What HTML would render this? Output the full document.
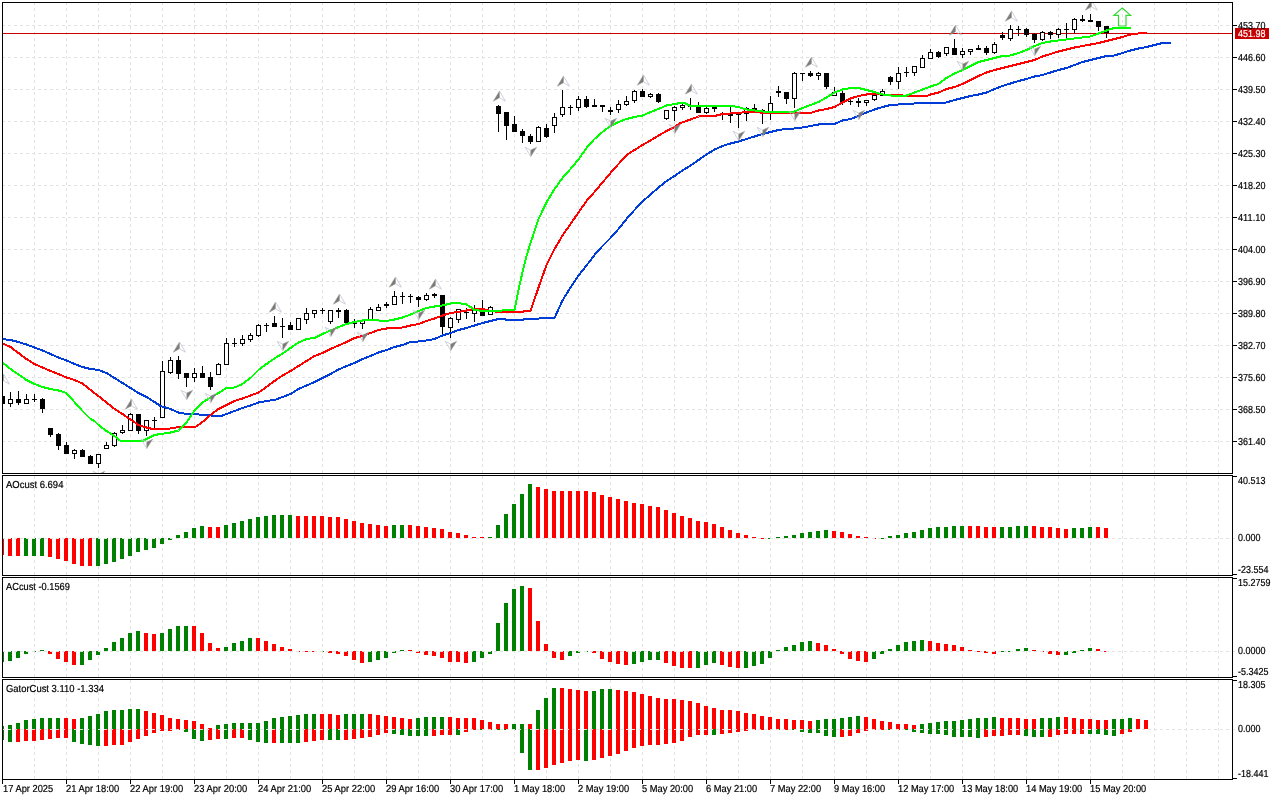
<!DOCTYPE html>
<html><head><meta charset="utf-8"><title>Chart</title>
<style>html,body{margin:0;padding:0;background:#fff;overflow:hidden}svg{display:block}text{font-family:"Liberation Sans",sans-serif;white-space:pre}</style>
</head><body>
<svg width="1280" height="800" viewBox="0 0 1280 800">
<rect width="1280" height="800" fill="#fff"/>
<defs>
<clipPath id="cm"><rect x="3" y="3" width="1229" height="470"/></clipPath>
</defs>
<g shape-rendering="crispEdges" stroke="#e2e2e2" stroke-width="1" fill="none">
<line x1="34.5" y1="3" x2="34.5" y2="473" stroke-dasharray="3 3" stroke-dashoffset="1"/>
<line x1="66.5" y1="3" x2="66.5" y2="473" stroke-dasharray="3 3" stroke-dashoffset="1"/>
<line x1="98.5" y1="3" x2="98.5" y2="473" stroke-dasharray="3 3" stroke-dashoffset="1"/>
<line x1="130.5" y1="3" x2="130.5" y2="473" stroke-dasharray="3 3" stroke-dashoffset="1"/>
<line x1="162.5" y1="3" x2="162.5" y2="473" stroke-dasharray="3 3" stroke-dashoffset="1"/>
<line x1="194.5" y1="3" x2="194.5" y2="473" stroke-dasharray="3 3" stroke-dashoffset="1"/>
<line x1="226.5" y1="3" x2="226.5" y2="473" stroke-dasharray="3 3" stroke-dashoffset="1"/>
<line x1="258.5" y1="3" x2="258.5" y2="473" stroke-dasharray="3 3" stroke-dashoffset="1"/>
<line x1="290.5" y1="3" x2="290.5" y2="473" stroke-dasharray="3 3" stroke-dashoffset="1"/>
<line x1="322.5" y1="3" x2="322.5" y2="473" stroke-dasharray="3 3" stroke-dashoffset="1"/>
<line x1="354.5" y1="3" x2="354.5" y2="473" stroke-dasharray="3 3" stroke-dashoffset="1"/>
<line x1="386.5" y1="3" x2="386.5" y2="473" stroke-dasharray="3 3" stroke-dashoffset="1"/>
<line x1="418.5" y1="3" x2="418.5" y2="473" stroke-dasharray="3 3" stroke-dashoffset="1"/>
<line x1="450.5" y1="3" x2="450.5" y2="473" stroke-dasharray="3 3" stroke-dashoffset="1"/>
<line x1="482.5" y1="3" x2="482.5" y2="473" stroke-dasharray="3 3" stroke-dashoffset="1"/>
<line x1="514.5" y1="3" x2="514.5" y2="473" stroke-dasharray="3 3" stroke-dashoffset="1"/>
<line x1="546.5" y1="3" x2="546.5" y2="473" stroke-dasharray="3 3" stroke-dashoffset="1"/>
<line x1="578.5" y1="3" x2="578.5" y2="473" stroke-dasharray="3 3" stroke-dashoffset="1"/>
<line x1="610.5" y1="3" x2="610.5" y2="473" stroke-dasharray="3 3" stroke-dashoffset="1"/>
<line x1="642.5" y1="3" x2="642.5" y2="473" stroke-dasharray="3 3" stroke-dashoffset="1"/>
<line x1="674.5" y1="3" x2="674.5" y2="473" stroke-dasharray="3 3" stroke-dashoffset="1"/>
<line x1="706.5" y1="3" x2="706.5" y2="473" stroke-dasharray="3 3" stroke-dashoffset="1"/>
<line x1="738.5" y1="3" x2="738.5" y2="473" stroke-dasharray="3 3" stroke-dashoffset="1"/>
<line x1="770.5" y1="3" x2="770.5" y2="473" stroke-dasharray="3 3" stroke-dashoffset="1"/>
<line x1="802.5" y1="3" x2="802.5" y2="473" stroke-dasharray="3 3" stroke-dashoffset="1"/>
<line x1="834.5" y1="3" x2="834.5" y2="473" stroke-dasharray="3 3" stroke-dashoffset="1"/>
<line x1="866.5" y1="3" x2="866.5" y2="473" stroke-dasharray="3 3" stroke-dashoffset="1"/>
<line x1="898.5" y1="3" x2="898.5" y2="473" stroke-dasharray="3 3" stroke-dashoffset="1"/>
<line x1="930.5" y1="3" x2="930.5" y2="473" stroke-dasharray="3 3" stroke-dashoffset="1"/>
<line x1="962.5" y1="3" x2="962.5" y2="473" stroke-dasharray="3 3" stroke-dashoffset="1"/>
<line x1="994.5" y1="3" x2="994.5" y2="473" stroke-dasharray="3 3" stroke-dashoffset="1"/>
<line x1="1026.5" y1="3" x2="1026.5" y2="473" stroke-dasharray="3 3" stroke-dashoffset="1"/>
<line x1="1058.5" y1="3" x2="1058.5" y2="473" stroke-dasharray="3 3" stroke-dashoffset="1"/>
<line x1="1090.5" y1="3" x2="1090.5" y2="473" stroke-dasharray="3 3" stroke-dashoffset="1"/>
<line x1="1122.5" y1="3" x2="1122.5" y2="473" stroke-dasharray="3 3" stroke-dashoffset="1"/>
<line x1="1154.5" y1="3" x2="1154.5" y2="473" stroke-dasharray="3 3" stroke-dashoffset="1"/>
<line x1="1186.5" y1="3" x2="1186.5" y2="473" stroke-dasharray="3 3" stroke-dashoffset="1"/>
<line x1="1218.5" y1="3" x2="1218.5" y2="473" stroke-dasharray="3 3" stroke-dashoffset="1"/>
<line x1="34.5" y1="476" x2="34.5" y2="575" stroke-dasharray="3 3" stroke-dashoffset="0"/>
<line x1="66.5" y1="476" x2="66.5" y2="575" stroke-dasharray="3 3" stroke-dashoffset="0"/>
<line x1="98.5" y1="476" x2="98.5" y2="575" stroke-dasharray="3 3" stroke-dashoffset="0"/>
<line x1="130.5" y1="476" x2="130.5" y2="575" stroke-dasharray="3 3" stroke-dashoffset="0"/>
<line x1="162.5" y1="476" x2="162.5" y2="575" stroke-dasharray="3 3" stroke-dashoffset="0"/>
<line x1="194.5" y1="476" x2="194.5" y2="575" stroke-dasharray="3 3" stroke-dashoffset="0"/>
<line x1="226.5" y1="476" x2="226.5" y2="575" stroke-dasharray="3 3" stroke-dashoffset="0"/>
<line x1="258.5" y1="476" x2="258.5" y2="575" stroke-dasharray="3 3" stroke-dashoffset="0"/>
<line x1="290.5" y1="476" x2="290.5" y2="575" stroke-dasharray="3 3" stroke-dashoffset="0"/>
<line x1="322.5" y1="476" x2="322.5" y2="575" stroke-dasharray="3 3" stroke-dashoffset="0"/>
<line x1="354.5" y1="476" x2="354.5" y2="575" stroke-dasharray="3 3" stroke-dashoffset="0"/>
<line x1="386.5" y1="476" x2="386.5" y2="575" stroke-dasharray="3 3" stroke-dashoffset="0"/>
<line x1="418.5" y1="476" x2="418.5" y2="575" stroke-dasharray="3 3" stroke-dashoffset="0"/>
<line x1="450.5" y1="476" x2="450.5" y2="575" stroke-dasharray="3 3" stroke-dashoffset="0"/>
<line x1="482.5" y1="476" x2="482.5" y2="575" stroke-dasharray="3 3" stroke-dashoffset="0"/>
<line x1="514.5" y1="476" x2="514.5" y2="575" stroke-dasharray="3 3" stroke-dashoffset="0"/>
<line x1="546.5" y1="476" x2="546.5" y2="575" stroke-dasharray="3 3" stroke-dashoffset="0"/>
<line x1="578.5" y1="476" x2="578.5" y2="575" stroke-dasharray="3 3" stroke-dashoffset="0"/>
<line x1="610.5" y1="476" x2="610.5" y2="575" stroke-dasharray="3 3" stroke-dashoffset="0"/>
<line x1="642.5" y1="476" x2="642.5" y2="575" stroke-dasharray="3 3" stroke-dashoffset="0"/>
<line x1="674.5" y1="476" x2="674.5" y2="575" stroke-dasharray="3 3" stroke-dashoffset="0"/>
<line x1="706.5" y1="476" x2="706.5" y2="575" stroke-dasharray="3 3" stroke-dashoffset="0"/>
<line x1="738.5" y1="476" x2="738.5" y2="575" stroke-dasharray="3 3" stroke-dashoffset="0"/>
<line x1="770.5" y1="476" x2="770.5" y2="575" stroke-dasharray="3 3" stroke-dashoffset="0"/>
<line x1="802.5" y1="476" x2="802.5" y2="575" stroke-dasharray="3 3" stroke-dashoffset="0"/>
<line x1="834.5" y1="476" x2="834.5" y2="575" stroke-dasharray="3 3" stroke-dashoffset="0"/>
<line x1="866.5" y1="476" x2="866.5" y2="575" stroke-dasharray="3 3" stroke-dashoffset="0"/>
<line x1="898.5" y1="476" x2="898.5" y2="575" stroke-dasharray="3 3" stroke-dashoffset="0"/>
<line x1="930.5" y1="476" x2="930.5" y2="575" stroke-dasharray="3 3" stroke-dashoffset="0"/>
<line x1="962.5" y1="476" x2="962.5" y2="575" stroke-dasharray="3 3" stroke-dashoffset="0"/>
<line x1="994.5" y1="476" x2="994.5" y2="575" stroke-dasharray="3 3" stroke-dashoffset="0"/>
<line x1="1026.5" y1="476" x2="1026.5" y2="575" stroke-dasharray="3 3" stroke-dashoffset="0"/>
<line x1="1058.5" y1="476" x2="1058.5" y2="575" stroke-dasharray="3 3" stroke-dashoffset="0"/>
<line x1="1090.5" y1="476" x2="1090.5" y2="575" stroke-dasharray="3 3" stroke-dashoffset="0"/>
<line x1="1122.5" y1="476" x2="1122.5" y2="575" stroke-dasharray="3 3" stroke-dashoffset="0"/>
<line x1="1154.5" y1="476" x2="1154.5" y2="575" stroke-dasharray="3 3" stroke-dashoffset="0"/>
<line x1="1186.5" y1="476" x2="1186.5" y2="575" stroke-dasharray="3 3" stroke-dashoffset="0"/>
<line x1="1218.5" y1="476" x2="1218.5" y2="575" stroke-dasharray="3 3" stroke-dashoffset="0"/>
<line x1="34.5" y1="578" x2="34.5" y2="677" stroke-dasharray="3 3" stroke-dashoffset="0"/>
<line x1="66.5" y1="578" x2="66.5" y2="677" stroke-dasharray="3 3" stroke-dashoffset="0"/>
<line x1="98.5" y1="578" x2="98.5" y2="677" stroke-dasharray="3 3" stroke-dashoffset="0"/>
<line x1="130.5" y1="578" x2="130.5" y2="677" stroke-dasharray="3 3" stroke-dashoffset="0"/>
<line x1="162.5" y1="578" x2="162.5" y2="677" stroke-dasharray="3 3" stroke-dashoffset="0"/>
<line x1="194.5" y1="578" x2="194.5" y2="677" stroke-dasharray="3 3" stroke-dashoffset="0"/>
<line x1="226.5" y1="578" x2="226.5" y2="677" stroke-dasharray="3 3" stroke-dashoffset="0"/>
<line x1="258.5" y1="578" x2="258.5" y2="677" stroke-dasharray="3 3" stroke-dashoffset="0"/>
<line x1="290.5" y1="578" x2="290.5" y2="677" stroke-dasharray="3 3" stroke-dashoffset="0"/>
<line x1="322.5" y1="578" x2="322.5" y2="677" stroke-dasharray="3 3" stroke-dashoffset="0"/>
<line x1="354.5" y1="578" x2="354.5" y2="677" stroke-dasharray="3 3" stroke-dashoffset="0"/>
<line x1="386.5" y1="578" x2="386.5" y2="677" stroke-dasharray="3 3" stroke-dashoffset="0"/>
<line x1="418.5" y1="578" x2="418.5" y2="677" stroke-dasharray="3 3" stroke-dashoffset="0"/>
<line x1="450.5" y1="578" x2="450.5" y2="677" stroke-dasharray="3 3" stroke-dashoffset="0"/>
<line x1="482.5" y1="578" x2="482.5" y2="677" stroke-dasharray="3 3" stroke-dashoffset="0"/>
<line x1="514.5" y1="578" x2="514.5" y2="677" stroke-dasharray="3 3" stroke-dashoffset="0"/>
<line x1="546.5" y1="578" x2="546.5" y2="677" stroke-dasharray="3 3" stroke-dashoffset="0"/>
<line x1="578.5" y1="578" x2="578.5" y2="677" stroke-dasharray="3 3" stroke-dashoffset="0"/>
<line x1="610.5" y1="578" x2="610.5" y2="677" stroke-dasharray="3 3" stroke-dashoffset="0"/>
<line x1="642.5" y1="578" x2="642.5" y2="677" stroke-dasharray="3 3" stroke-dashoffset="0"/>
<line x1="674.5" y1="578" x2="674.5" y2="677" stroke-dasharray="3 3" stroke-dashoffset="0"/>
<line x1="706.5" y1="578" x2="706.5" y2="677" stroke-dasharray="3 3" stroke-dashoffset="0"/>
<line x1="738.5" y1="578" x2="738.5" y2="677" stroke-dasharray="3 3" stroke-dashoffset="0"/>
<line x1="770.5" y1="578" x2="770.5" y2="677" stroke-dasharray="3 3" stroke-dashoffset="0"/>
<line x1="802.5" y1="578" x2="802.5" y2="677" stroke-dasharray="3 3" stroke-dashoffset="0"/>
<line x1="834.5" y1="578" x2="834.5" y2="677" stroke-dasharray="3 3" stroke-dashoffset="0"/>
<line x1="866.5" y1="578" x2="866.5" y2="677" stroke-dasharray="3 3" stroke-dashoffset="0"/>
<line x1="898.5" y1="578" x2="898.5" y2="677" stroke-dasharray="3 3" stroke-dashoffset="0"/>
<line x1="930.5" y1="578" x2="930.5" y2="677" stroke-dasharray="3 3" stroke-dashoffset="0"/>
<line x1="962.5" y1="578" x2="962.5" y2="677" stroke-dasharray="3 3" stroke-dashoffset="0"/>
<line x1="994.5" y1="578" x2="994.5" y2="677" stroke-dasharray="3 3" stroke-dashoffset="0"/>
<line x1="1026.5" y1="578" x2="1026.5" y2="677" stroke-dasharray="3 3" stroke-dashoffset="0"/>
<line x1="1058.5" y1="578" x2="1058.5" y2="677" stroke-dasharray="3 3" stroke-dashoffset="0"/>
<line x1="1090.5" y1="578" x2="1090.5" y2="677" stroke-dasharray="3 3" stroke-dashoffset="0"/>
<line x1="1122.5" y1="578" x2="1122.5" y2="677" stroke-dasharray="3 3" stroke-dashoffset="0"/>
<line x1="1154.5" y1="578" x2="1154.5" y2="677" stroke-dasharray="3 3" stroke-dashoffset="0"/>
<line x1="1186.5" y1="578" x2="1186.5" y2="677" stroke-dasharray="3 3" stroke-dashoffset="0"/>
<line x1="1218.5" y1="578" x2="1218.5" y2="677" stroke-dasharray="3 3" stroke-dashoffset="0"/>
<line x1="34.5" y1="680" x2="34.5" y2="779" stroke-dasharray="3 3" stroke-dashoffset="0"/>
<line x1="66.5" y1="680" x2="66.5" y2="779" stroke-dasharray="3 3" stroke-dashoffset="0"/>
<line x1="98.5" y1="680" x2="98.5" y2="779" stroke-dasharray="3 3" stroke-dashoffset="0"/>
<line x1="130.5" y1="680" x2="130.5" y2="779" stroke-dasharray="3 3" stroke-dashoffset="0"/>
<line x1="162.5" y1="680" x2="162.5" y2="779" stroke-dasharray="3 3" stroke-dashoffset="0"/>
<line x1="194.5" y1="680" x2="194.5" y2="779" stroke-dasharray="3 3" stroke-dashoffset="0"/>
<line x1="226.5" y1="680" x2="226.5" y2="779" stroke-dasharray="3 3" stroke-dashoffset="0"/>
<line x1="258.5" y1="680" x2="258.5" y2="779" stroke-dasharray="3 3" stroke-dashoffset="0"/>
<line x1="290.5" y1="680" x2="290.5" y2="779" stroke-dasharray="3 3" stroke-dashoffset="0"/>
<line x1="322.5" y1="680" x2="322.5" y2="779" stroke-dasharray="3 3" stroke-dashoffset="0"/>
<line x1="354.5" y1="680" x2="354.5" y2="779" stroke-dasharray="3 3" stroke-dashoffset="0"/>
<line x1="386.5" y1="680" x2="386.5" y2="779" stroke-dasharray="3 3" stroke-dashoffset="0"/>
<line x1="418.5" y1="680" x2="418.5" y2="779" stroke-dasharray="3 3" stroke-dashoffset="0"/>
<line x1="450.5" y1="680" x2="450.5" y2="779" stroke-dasharray="3 3" stroke-dashoffset="0"/>
<line x1="482.5" y1="680" x2="482.5" y2="779" stroke-dasharray="3 3" stroke-dashoffset="0"/>
<line x1="514.5" y1="680" x2="514.5" y2="779" stroke-dasharray="3 3" stroke-dashoffset="0"/>
<line x1="546.5" y1="680" x2="546.5" y2="779" stroke-dasharray="3 3" stroke-dashoffset="0"/>
<line x1="578.5" y1="680" x2="578.5" y2="779" stroke-dasharray="3 3" stroke-dashoffset="0"/>
<line x1="610.5" y1="680" x2="610.5" y2="779" stroke-dasharray="3 3" stroke-dashoffset="0"/>
<line x1="642.5" y1="680" x2="642.5" y2="779" stroke-dasharray="3 3" stroke-dashoffset="0"/>
<line x1="674.5" y1="680" x2="674.5" y2="779" stroke-dasharray="3 3" stroke-dashoffset="0"/>
<line x1="706.5" y1="680" x2="706.5" y2="779" stroke-dasharray="3 3" stroke-dashoffset="0"/>
<line x1="738.5" y1="680" x2="738.5" y2="779" stroke-dasharray="3 3" stroke-dashoffset="0"/>
<line x1="770.5" y1="680" x2="770.5" y2="779" stroke-dasharray="3 3" stroke-dashoffset="0"/>
<line x1="802.5" y1="680" x2="802.5" y2="779" stroke-dasharray="3 3" stroke-dashoffset="0"/>
<line x1="834.5" y1="680" x2="834.5" y2="779" stroke-dasharray="3 3" stroke-dashoffset="0"/>
<line x1="866.5" y1="680" x2="866.5" y2="779" stroke-dasharray="3 3" stroke-dashoffset="0"/>
<line x1="898.5" y1="680" x2="898.5" y2="779" stroke-dasharray="3 3" stroke-dashoffset="0"/>
<line x1="930.5" y1="680" x2="930.5" y2="779" stroke-dasharray="3 3" stroke-dashoffset="0"/>
<line x1="962.5" y1="680" x2="962.5" y2="779" stroke-dasharray="3 3" stroke-dashoffset="0"/>
<line x1="994.5" y1="680" x2="994.5" y2="779" stroke-dasharray="3 3" stroke-dashoffset="0"/>
<line x1="1026.5" y1="680" x2="1026.5" y2="779" stroke-dasharray="3 3" stroke-dashoffset="0"/>
<line x1="1058.5" y1="680" x2="1058.5" y2="779" stroke-dasharray="3 3" stroke-dashoffset="0"/>
<line x1="1090.5" y1="680" x2="1090.5" y2="779" stroke-dasharray="3 3" stroke-dashoffset="0"/>
<line x1="1122.5" y1="680" x2="1122.5" y2="779" stroke-dasharray="3 3" stroke-dashoffset="0"/>
<line x1="1154.5" y1="680" x2="1154.5" y2="779" stroke-dasharray="3 3" stroke-dashoffset="0"/>
<line x1="1186.5" y1="680" x2="1186.5" y2="779" stroke-dasharray="3 3" stroke-dashoffset="0"/>
<line x1="1218.5" y1="680" x2="1218.5" y2="779" stroke-dasharray="3 3" stroke-dashoffset="0"/>
<line x1="3" y1="25.5" x2="1232" y2="25.5" stroke-dasharray="3 3" stroke-dashoffset="1"/>
<line x1="3" y1="57.5" x2="1232" y2="57.5" stroke-dasharray="3 3" stroke-dashoffset="1"/>
<line x1="3" y1="89.5" x2="1232" y2="89.5" stroke-dasharray="3 3" stroke-dashoffset="1"/>
<line x1="3" y1="121.5" x2="1232" y2="121.5" stroke-dasharray="3 3" stroke-dashoffset="1"/>
<line x1="3" y1="153.5" x2="1232" y2="153.5" stroke-dasharray="3 3" stroke-dashoffset="1"/>
<line x1="3" y1="185.5" x2="1232" y2="185.5" stroke-dasharray="3 3" stroke-dashoffset="1"/>
<line x1="3" y1="217.5" x2="1232" y2="217.5" stroke-dasharray="3 3" stroke-dashoffset="1"/>
<line x1="3" y1="249.5" x2="1232" y2="249.5" stroke-dasharray="3 3" stroke-dashoffset="1"/>
<line x1="3" y1="281.5" x2="1232" y2="281.5" stroke-dasharray="3 3" stroke-dashoffset="1"/>
<line x1="3" y1="313.5" x2="1232" y2="313.5" stroke-dasharray="3 3" stroke-dashoffset="1"/>
<line x1="3" y1="345.5" x2="1232" y2="345.5" stroke-dasharray="3 3" stroke-dashoffset="1"/>
<line x1="3" y1="377.5" x2="1232" y2="377.5" stroke-dasharray="3 3" stroke-dashoffset="1"/>
<line x1="3" y1="409.5" x2="1232" y2="409.5" stroke-dasharray="3 3" stroke-dashoffset="1"/>
<line x1="3" y1="441.5" x2="1232" y2="441.5" stroke-dasharray="3 3" stroke-dashoffset="1"/>
<line x1="3" y1="538.5" x2="1236" y2="538.5" stroke-dasharray="3 3" stroke-dashoffset="1"/>
<line x1="3" y1="651.5" x2="1236" y2="651.5" stroke-dasharray="3 3" stroke-dashoffset="1"/>
<line x1="3" y1="729.5" x2="1236" y2="729.5" stroke-dasharray="3 3" stroke-dashoffset="1"/>
</g>
<g clip-path="url(#cm)">
<g shape-rendering="crispEdges">
<rect x="3" y="33" width="1229" height="1" fill="#c80000"/>
</g>
<g shape-rendering="crispEdges">
<rect x="2" y="396" width="1" height="8" fill="#000"/>
<rect x="0" y="396" width="5" height="8" fill="#000"/>
<rect x="10" y="392" width="1" height="15" fill="#000"/>
<rect x="8" y="399" width="5" height="5" fill="#000"/>
<rect x="9" y="400" width="3" height="3" fill="#fff"/>
<rect x="18" y="391" width="1" height="14" fill="#000"/>
<rect x="16" y="399" width="5" height="4" fill="#000"/>
<rect x="26" y="394" width="1" height="10" fill="#000"/>
<rect x="24" y="399" width="5" height="5" fill="#000"/>
<rect x="25" y="400" width="3" height="3" fill="#fff"/>
<rect x="34" y="394" width="1" height="8" fill="#000"/>
<rect x="32" y="399" width="5" height="1" fill="#000"/>
<rect x="42" y="398" width="1" height="15" fill="#000"/>
<rect x="40" y="399" width="5" height="10" fill="#000"/>
<rect x="50" y="428" width="1" height="9" fill="#000"/>
<rect x="48" y="428" width="5" height="7" fill="#000"/>
<rect x="58" y="433" width="1" height="17" fill="#000"/>
<rect x="56" y="434" width="5" height="12" fill="#000"/>
<rect x="66" y="442" width="1" height="12" fill="#000"/>
<rect x="64" y="445" width="5" height="9" fill="#000"/>
<rect x="74" y="449" width="1" height="10" fill="#000"/>
<rect x="72" y="450" width="5" height="4" fill="#000"/>
<rect x="73" y="451" width="3" height="2" fill="#fff"/>
<rect x="82" y="449" width="1" height="8" fill="#000"/>
<rect x="80" y="450" width="5" height="7" fill="#000"/>
<rect x="90" y="455" width="1" height="9" fill="#000"/>
<rect x="88" y="456" width="5" height="8" fill="#000"/>
<rect x="98" y="454" width="1" height="14" fill="#000"/>
<rect x="96" y="454" width="5" height="10" fill="#000"/>
<rect x="97" y="455" width="3" height="8" fill="#fff"/>
<rect x="106" y="442" width="1" height="7" fill="#000"/>
<rect x="104" y="445" width="5" height="4" fill="#000"/>
<rect x="105" y="446" width="3" height="2" fill="#fff"/>
<rect x="114" y="432" width="1" height="15" fill="#000"/>
<rect x="112" y="433" width="5" height="13" fill="#000"/>
<rect x="113" y="434" width="3" height="11" fill="#fff"/>
<rect x="122" y="425" width="1" height="9" fill="#000"/>
<rect x="120" y="430" width="5" height="3" fill="#000"/>
<rect x="121" y="431" width="3" height="1" fill="#fff"/>
<rect x="130" y="413" width="1" height="18" fill="#000"/>
<rect x="128" y="414" width="5" height="17" fill="#000"/>
<rect x="129" y="415" width="3" height="15" fill="#fff"/>
<rect x="138" y="414" width="1" height="20" fill="#000"/>
<rect x="136" y="414" width="5" height="17" fill="#000"/>
<rect x="146" y="420" width="1" height="16" fill="#000"/>
<rect x="144" y="420" width="5" height="11" fill="#000"/>
<rect x="145" y="421" width="3" height="9" fill="#fff"/>
<rect x="154" y="417" width="1" height="11" fill="#000"/>
<rect x="152" y="420" width="5" height="1" fill="#000"/>
<rect x="162" y="361" width="1" height="57" fill="#000"/>
<rect x="160" y="371" width="5" height="47" fill="#000"/>
<rect x="161" y="372" width="3" height="45" fill="#fff"/>
<rect x="170" y="357" width="1" height="17" fill="#000"/>
<rect x="168" y="360" width="5" height="13" fill="#000"/>
<rect x="169" y="361" width="3" height="11" fill="#fff"/>
<rect x="178" y="356" width="1" height="23" fill="#000"/>
<rect x="176" y="360" width="5" height="14" fill="#000"/>
<rect x="186" y="373" width="1" height="14" fill="#000"/>
<rect x="184" y="373" width="5" height="5" fill="#000"/>
<rect x="194" y="368" width="1" height="14" fill="#000"/>
<rect x="192" y="373" width="5" height="5" fill="#000"/>
<rect x="193" y="374" width="3" height="3" fill="#fff"/>
<rect x="202" y="366" width="1" height="12" fill="#000"/>
<rect x="200" y="373" width="5" height="5" fill="#000"/>
<rect x="210" y="372" width="1" height="18" fill="#000"/>
<rect x="208" y="377" width="5" height="10" fill="#000"/>
<rect x="218" y="363" width="1" height="12" fill="#000"/>
<rect x="216" y="364" width="5" height="11" fill="#000"/>
<rect x="217" y="365" width="3" height="9" fill="#fff"/>
<rect x="226" y="338" width="1" height="27" fill="#000"/>
<rect x="224" y="343" width="5" height="22" fill="#000"/>
<rect x="225" y="344" width="3" height="20" fill="#fff"/>
<rect x="234" y="338" width="1" height="9" fill="#000"/>
<rect x="232" y="343" width="5" height="1" fill="#000"/>
<rect x="242" y="335" width="1" height="11" fill="#000"/>
<rect x="240" y="339" width="5" height="5" fill="#000"/>
<rect x="241" y="340" width="3" height="3" fill="#fff"/>
<rect x="250" y="333" width="1" height="9" fill="#000"/>
<rect x="248" y="335" width="5" height="5" fill="#000"/>
<rect x="249" y="336" width="3" height="3" fill="#fff"/>
<rect x="258" y="324" width="1" height="13" fill="#000"/>
<rect x="256" y="325" width="5" height="11" fill="#000"/>
<rect x="257" y="326" width="3" height="9" fill="#fff"/>
<rect x="266" y="323" width="1" height="9" fill="#000"/>
<rect x="264" y="325" width="5" height="1" fill="#000"/>
<rect x="274" y="316" width="1" height="11" fill="#000"/>
<rect x="272" y="323" width="5" height="4" fill="#000"/>
<rect x="282" y="318" width="1" height="20" fill="#000"/>
<rect x="280" y="326" width="5" height="1" fill="#000"/>
<rect x="290" y="322" width="1" height="8" fill="#000"/>
<rect x="288" y="325" width="5" height="5" fill="#000"/>
<rect x="298" y="318" width="1" height="12" fill="#000"/>
<rect x="296" y="318" width="5" height="12" fill="#000"/>
<rect x="297" y="319" width="3" height="10" fill="#fff"/>
<rect x="306" y="308" width="1" height="16" fill="#000"/>
<rect x="304" y="313" width="5" height="7" fill="#000"/>
<rect x="305" y="314" width="3" height="5" fill="#fff"/>
<rect x="314" y="310" width="1" height="8" fill="#000"/>
<rect x="312" y="310" width="5" height="4" fill="#000"/>
<rect x="313" y="311" width="3" height="2" fill="#fff"/>
<rect x="322" y="308" width="1" height="6" fill="#000"/>
<rect x="320" y="310" width="5" height="1" fill="#000"/>
<rect x="330" y="310" width="1" height="14" fill="#000"/>
<rect x="328" y="310" width="5" height="12" fill="#000"/>
<rect x="329" y="311" width="3" height="10" fill="#fff"/>
<rect x="338" y="308" width="1" height="10" fill="#000"/>
<rect x="336" y="310" width="5" height="2" fill="#000"/>
<rect x="346" y="309" width="1" height="14" fill="#000"/>
<rect x="344" y="310" width="5" height="13" fill="#000"/>
<rect x="354" y="319" width="1" height="9" fill="#000"/>
<rect x="352" y="323" width="5" height="1" fill="#000"/>
<rect x="362" y="320" width="1" height="9" fill="#000"/>
<rect x="360" y="320" width="5" height="4" fill="#000"/>
<rect x="361" y="321" width="3" height="2" fill="#fff"/>
<rect x="370" y="307" width="1" height="13" fill="#000"/>
<rect x="368" y="309" width="5" height="11" fill="#000"/>
<rect x="369" y="310" width="3" height="9" fill="#fff"/>
<rect x="378" y="304" width="1" height="7" fill="#000"/>
<rect x="376" y="307" width="5" height="4" fill="#000"/>
<rect x="377" y="308" width="3" height="2" fill="#fff"/>
<rect x="386" y="302" width="1" height="6" fill="#000"/>
<rect x="384" y="304" width="5" height="2" fill="#000"/>
<rect x="394" y="291" width="1" height="14" fill="#000"/>
<rect x="392" y="296" width="5" height="9" fill="#000"/>
<rect x="393" y="297" width="3" height="7" fill="#fff"/>
<rect x="402" y="292" width="1" height="12" fill="#000"/>
<rect x="400" y="296" width="5" height="1" fill="#000"/>
<rect x="410" y="294" width="1" height="9" fill="#000"/>
<rect x="408" y="296" width="5" height="1" fill="#000"/>
<rect x="418" y="296" width="1" height="11" fill="#000"/>
<rect x="416" y="297" width="5" height="3" fill="#000"/>
<rect x="426" y="293" width="1" height="8" fill="#000"/>
<rect x="424" y="295" width="5" height="5" fill="#000"/>
<rect x="425" y="296" width="3" height="3" fill="#fff"/>
<rect x="434" y="293" width="1" height="5" fill="#000"/>
<rect x="432" y="294" width="5" height="2" fill="#000"/>
<rect x="442" y="295" width="1" height="40" fill="#000"/>
<rect x="440" y="295" width="5" height="32" fill="#000"/>
<rect x="450" y="317" width="1" height="21" fill="#000"/>
<rect x="448" y="318" width="5" height="10" fill="#000"/>
<rect x="449" y="319" width="3" height="8" fill="#fff"/>
<rect x="458" y="309" width="1" height="14" fill="#000"/>
<rect x="456" y="309" width="5" height="11" fill="#000"/>
<rect x="457" y="310" width="3" height="9" fill="#fff"/>
<rect x="466" y="308" width="1" height="11" fill="#000"/>
<rect x="464" y="312" width="5" height="1" fill="#000"/>
<rect x="474" y="305" width="1" height="17" fill="#000"/>
<rect x="472" y="309" width="5" height="5" fill="#000"/>
<rect x="473" y="310" width="3" height="3" fill="#fff"/>
<rect x="482" y="300" width="1" height="16" fill="#000"/>
<rect x="480" y="312" width="5" height="4" fill="#000"/>
<rect x="490" y="306" width="1" height="9" fill="#000"/>
<rect x="488" y="307" width="5" height="8" fill="#000"/>
<rect x="489" y="308" width="3" height="6" fill="#fff"/>
<rect x="498" y="105" width="1" height="27" fill="#000"/>
<rect x="496" y="106" width="5" height="8" fill="#000"/>
<rect x="506" y="112" width="1" height="28" fill="#000"/>
<rect x="504" y="112" width="5" height="14" fill="#000"/>
<rect x="514" y="116" width="1" height="16" fill="#000"/>
<rect x="512" y="124" width="5" height="8" fill="#000"/>
<rect x="522" y="129" width="1" height="14" fill="#000"/>
<rect x="520" y="131" width="5" height="5" fill="#000"/>
<rect x="530" y="134" width="1" height="10" fill="#000"/>
<rect x="528" y="136" width="5" height="6" fill="#000"/>
<rect x="538" y="126" width="1" height="16" fill="#000"/>
<rect x="536" y="127" width="5" height="15" fill="#000"/>
<rect x="537" y="128" width="3" height="13" fill="#fff"/>
<rect x="546" y="124" width="1" height="14" fill="#000"/>
<rect x="544" y="128" width="5" height="9" fill="#000"/>
<rect x="554" y="113" width="1" height="20" fill="#000"/>
<rect x="552" y="117" width="5" height="9" fill="#000"/>
<rect x="553" y="118" width="3" height="7" fill="#fff"/>
<rect x="562" y="90" width="1" height="27" fill="#000"/>
<rect x="560" y="107" width="5" height="8" fill="#000"/>
<rect x="561" y="108" width="3" height="6" fill="#fff"/>
<rect x="570" y="105" width="1" height="10" fill="#000"/>
<rect x="568" y="107" width="5" height="1" fill="#000"/>
<rect x="578" y="96" width="1" height="15" fill="#000"/>
<rect x="576" y="99" width="5" height="9" fill="#000"/>
<rect x="577" y="100" width="3" height="7" fill="#fff"/>
<rect x="586" y="96" width="1" height="12" fill="#000"/>
<rect x="584" y="99" width="5" height="8" fill="#000"/>
<rect x="594" y="99" width="1" height="8" fill="#000"/>
<rect x="592" y="105" width="5" height="2" fill="#000"/>
<rect x="602" y="105" width="1" height="7" fill="#000"/>
<rect x="600" y="105" width="5" height="2" fill="#000"/>
<rect x="610" y="107" width="1" height="8" fill="#000"/>
<rect x="608" y="110" width="5" height="2" fill="#000"/>
<rect x="618" y="100" width="1" height="13" fill="#000"/>
<rect x="616" y="104" width="5" height="6" fill="#000"/>
<rect x="617" y="105" width="3" height="4" fill="#fff"/>
<rect x="626" y="96" width="1" height="10" fill="#000"/>
<rect x="624" y="101" width="5" height="4" fill="#000"/>
<rect x="625" y="102" width="3" height="2" fill="#fff"/>
<rect x="634" y="90" width="1" height="13" fill="#000"/>
<rect x="632" y="91" width="5" height="10" fill="#000"/>
<rect x="633" y="92" width="3" height="8" fill="#fff"/>
<rect x="642" y="89" width="1" height="8" fill="#000"/>
<rect x="640" y="91" width="5" height="6" fill="#000"/>
<rect x="650" y="93" width="1" height="5" fill="#000"/>
<rect x="648" y="94" width="5" height="3" fill="#000"/>
<rect x="649" y="95" width="3" height="1" fill="#fff"/>
<rect x="658" y="93" width="1" height="10" fill="#000"/>
<rect x="656" y="94" width="5" height="8" fill="#000"/>
<rect x="666" y="110" width="1" height="10" fill="#000"/>
<rect x="664" y="110" width="5" height="9" fill="#000"/>
<rect x="665" y="111" width="3" height="7" fill="#fff"/>
<rect x="674" y="106" width="1" height="15" fill="#000"/>
<rect x="672" y="107" width="5" height="4" fill="#000"/>
<rect x="673" y="108" width="3" height="2" fill="#fff"/>
<rect x="682" y="104" width="1" height="6" fill="#000"/>
<rect x="680" y="105" width="5" height="3" fill="#000"/>
<rect x="681" y="106" width="3" height="1" fill="#fff"/>
<rect x="690" y="98" width="1" height="12" fill="#000"/>
<rect x="688" y="106" width="5" height="1" fill="#000"/>
<rect x="698" y="102" width="1" height="11" fill="#000"/>
<rect x="696" y="107" width="5" height="6" fill="#000"/>
<rect x="706" y="107" width="1" height="7" fill="#000"/>
<rect x="704" y="108" width="5" height="5" fill="#000"/>
<rect x="705" y="109" width="3" height="3" fill="#fff"/>
<rect x="714" y="107" width="1" height="5" fill="#000"/>
<rect x="712" y="107" width="5" height="2" fill="#000"/>
<rect x="722" y="112" width="1" height="8" fill="#000"/>
<rect x="720" y="114" width="5" height="1" fill="#000"/>
<rect x="730" y="107" width="1" height="16" fill="#000"/>
<rect x="728" y="114" width="5" height="2" fill="#000"/>
<rect x="738" y="113" width="1" height="15" fill="#000"/>
<rect x="736" y="114" width="5" height="1" fill="#000"/>
<rect x="746" y="107" width="1" height="14" fill="#000"/>
<rect x="744" y="108" width="5" height="6" fill="#000"/>
<rect x="745" y="109" width="3" height="4" fill="#fff"/>
<rect x="754" y="104" width="1" height="7" fill="#000"/>
<rect x="752" y="108" width="5" height="2" fill="#000"/>
<rect x="762" y="109" width="1" height="15" fill="#000"/>
<rect x="760" y="110" width="5" height="1" fill="#000"/>
<rect x="770" y="96" width="1" height="24" fill="#000"/>
<rect x="768" y="103" width="5" height="9" fill="#000"/>
<rect x="769" y="104" width="3" height="7" fill="#fff"/>
<rect x="778" y="86" width="1" height="11" fill="#000"/>
<rect x="776" y="91" width="5" height="2" fill="#000"/>
<rect x="786" y="92" width="1" height="12" fill="#000"/>
<rect x="784" y="92" width="5" height="7" fill="#000"/>
<rect x="794" y="72" width="1" height="36" fill="#000"/>
<rect x="792" y="73" width="5" height="26" fill="#000"/>
<rect x="793" y="74" width="3" height="24" fill="#fff"/>
<rect x="802" y="73" width="1" height="8" fill="#000"/>
<rect x="800" y="73" width="5" height="1" fill="#000"/>
<rect x="810" y="71" width="1" height="6" fill="#000"/>
<rect x="808" y="73" width="5" height="3" fill="#000"/>
<rect x="818" y="72" width="1" height="8" fill="#000"/>
<rect x="816" y="73" width="5" height="3" fill="#000"/>
<rect x="817" y="74" width="3" height="1" fill="#fff"/>
<rect x="826" y="73" width="1" height="16" fill="#000"/>
<rect x="824" y="73" width="5" height="14" fill="#000"/>
<rect x="834" y="87" width="1" height="9" fill="#000"/>
<rect x="832" y="92" width="5" height="4" fill="#000"/>
<rect x="833" y="93" width="3" height="2" fill="#fff"/>
<rect x="842" y="91" width="1" height="14" fill="#000"/>
<rect x="840" y="93" width="5" height="9" fill="#000"/>
<rect x="850" y="100" width="1" height="5" fill="#000"/>
<rect x="848" y="101" width="5" height="1" fill="#000"/>
<rect x="858" y="98" width="1" height="9" fill="#000"/>
<rect x="856" y="101" width="5" height="2" fill="#000"/>
<rect x="866" y="100" width="1" height="6" fill="#000"/>
<rect x="864" y="100" width="5" height="3" fill="#000"/>
<rect x="865" y="101" width="3" height="1" fill="#fff"/>
<rect x="874" y="94" width="1" height="7" fill="#000"/>
<rect x="872" y="95" width="5" height="5" fill="#000"/>
<rect x="873" y="96" width="3" height="3" fill="#fff"/>
<rect x="882" y="89" width="1" height="7" fill="#000"/>
<rect x="880" y="91" width="5" height="5" fill="#000"/>
<rect x="881" y="92" width="3" height="3" fill="#fff"/>
<rect x="890" y="76" width="1" height="9" fill="#000"/>
<rect x="888" y="77" width="5" height="5" fill="#000"/>
<rect x="898" y="67" width="1" height="22" fill="#000"/>
<rect x="896" y="73" width="5" height="9" fill="#000"/>
<rect x="897" y="74" width="3" height="7" fill="#fff"/>
<rect x="906" y="67" width="1" height="10" fill="#000"/>
<rect x="904" y="72" width="5" height="1" fill="#000"/>
<rect x="914" y="66" width="1" height="10" fill="#000"/>
<rect x="912" y="66" width="5" height="7" fill="#000"/>
<rect x="913" y="67" width="3" height="5" fill="#fff"/>
<rect x="922" y="55" width="1" height="13" fill="#000"/>
<rect x="920" y="58" width="5" height="10" fill="#000"/>
<rect x="921" y="59" width="3" height="8" fill="#fff"/>
<rect x="930" y="49" width="1" height="10" fill="#000"/>
<rect x="928" y="52" width="5" height="7" fill="#000"/>
<rect x="929" y="53" width="3" height="5" fill="#fff"/>
<rect x="938" y="51" width="1" height="7" fill="#000"/>
<rect x="936" y="52" width="5" height="5" fill="#000"/>
<rect x="946" y="47" width="1" height="9" fill="#000"/>
<rect x="944" y="47" width="5" height="7" fill="#000"/>
<rect x="945" y="48" width="3" height="5" fill="#fff"/>
<rect x="954" y="39" width="1" height="16" fill="#000"/>
<rect x="952" y="48" width="5" height="7" fill="#000"/>
<rect x="962" y="48" width="1" height="10" fill="#000"/>
<rect x="960" y="51" width="5" height="4" fill="#000"/>
<rect x="961" y="52" width="3" height="2" fill="#fff"/>
<rect x="970" y="49" width="1" height="6" fill="#000"/>
<rect x="968" y="49" width="5" height="3" fill="#000"/>
<rect x="969" y="50" width="3" height="1" fill="#fff"/>
<rect x="978" y="45" width="1" height="5" fill="#000"/>
<rect x="976" y="48" width="5" height="2" fill="#000"/>
<rect x="986" y="46" width="1" height="9" fill="#000"/>
<rect x="984" y="48" width="5" height="5" fill="#000"/>
<rect x="994" y="42" width="1" height="12" fill="#000"/>
<rect x="992" y="44" width="5" height="9" fill="#000"/>
<rect x="993" y="45" width="3" height="7" fill="#fff"/>
<rect x="1002" y="32" width="1" height="8" fill="#000"/>
<rect x="1000" y="35" width="5" height="3" fill="#000"/>
<rect x="1010" y="25" width="1" height="16" fill="#000"/>
<rect x="1008" y="29" width="5" height="10" fill="#000"/>
<rect x="1009" y="30" width="3" height="8" fill="#fff"/>
<rect x="1018" y="26" width="1" height="10" fill="#000"/>
<rect x="1016" y="29" width="5" height="1" fill="#000"/>
<rect x="1026" y="28" width="1" height="9" fill="#000"/>
<rect x="1024" y="29" width="5" height="6" fill="#000"/>
<rect x="1034" y="33" width="1" height="10" fill="#000"/>
<rect x="1032" y="34" width="5" height="6" fill="#000"/>
<rect x="1042" y="31" width="1" height="10" fill="#000"/>
<rect x="1040" y="32" width="5" height="8" fill="#000"/>
<rect x="1041" y="33" width="3" height="6" fill="#fff"/>
<rect x="1050" y="31" width="1" height="8" fill="#000"/>
<rect x="1048" y="32" width="5" height="3" fill="#000"/>
<rect x="1058" y="28" width="1" height="10" fill="#000"/>
<rect x="1056" y="29" width="5" height="6" fill="#000"/>
<rect x="1057" y="30" width="3" height="4" fill="#fff"/>
<rect x="1066" y="23" width="1" height="15" fill="#000"/>
<rect x="1064" y="29" width="5" height="1" fill="#000"/>
<rect x="1074" y="18" width="1" height="15" fill="#000"/>
<rect x="1072" y="19" width="5" height="11" fill="#000"/>
<rect x="1073" y="20" width="3" height="9" fill="#fff"/>
<rect x="1082" y="15" width="1" height="7" fill="#000"/>
<rect x="1080" y="19" width="5" height="2" fill="#000"/>
<rect x="1090" y="14" width="1" height="8" fill="#000"/>
<rect x="1088" y="20" width="5" height="2" fill="#000"/>
<rect x="1098" y="21" width="1" height="10" fill="#000"/>
<rect x="1096" y="21" width="5" height="6" fill="#000"/>
<rect x="1106" y="26" width="1" height="12" fill="#000"/>
<rect x="1104" y="26" width="5" height="7" fill="#000"/>
</g>
<polyline points="2,339 10.5,340 18.5,342 26.5,344.5 34.5,347.5 42.5,350.5 50.5,354 58.5,357.5 66.5,360.5 74.5,364 82.5,367 90.5,369 98.5,370 106.5,373 114.5,378 122.5,383 130.5,388 138.5,393 146.5,397 154.5,402 160.5,406 170.5,409 178.5,412.5 186.5,414 194.5,414 202.5,415 210.5,415.5 222.5,415.5 226.5,414 234.5,411 242.5,408 250.5,405.5 258.5,402.5 266.5,401 274.5,400 282.5,397 290.5,394 298.5,389 306.5,385.5 314.5,382 322.5,378 330.5,374 338.5,369.5 346.5,366 354.5,363 362.5,359 370.5,356 378.5,352.5 386.5,350 394.5,347 402.5,345 410.5,342 418.5,341.5 426.5,340.5 434.5,339 442.5,335.5 450.5,333 458.5,330 466.5,328 474.5,325.5 482.5,323 490.5,321 498.5,319 504.5,318.75 506.5,320 522.5,320 524.5,319 538.5,318.75 540.5,318 554.5,318 562.5,300.5 570.5,287.5 578.5,275.5 586.5,265.5 594.5,255 602.5,246 610.5,238 618.5,229 626.5,219 634.5,210 642.5,201.5 650.5,194.5 658.5,187.5 666.5,181 674.5,176 682.5,170.5 690.5,165.5 698.5,160 706.5,154.5 714.5,149.5 722.5,146 730.5,143.5 738.5,141.5 746.5,139 754.5,136.5 762.5,134 770.5,132 778.5,130 786.5,129 794.5,128.5 802.5,127.5 810.5,126 818.5,124.5 834.5,124 842.5,120.5 850.5,119 858.5,116 866.5,112.5 874.5,109.5 882.5,107 890.5,105 898.5,104.5 906.5,104 914.5,103.5 922.5,103 946.5,102.5 954.5,100 962.5,98 970.5,96 978.5,94.5 986.5,92.5 994.5,89 1002.5,86 1010.5,83.5 1018.5,81 1026.5,79 1034.5,76.5 1042.5,75 1050.5,72.5 1058.5,70 1066.5,68 1074.5,65 1082.5,62 1090.5,60 1098.5,58 1106.5,56 1114.5,55.5 1122.5,53 1130.5,50.5 1138.5,48.5 1146.5,47 1154.5,45 1162.5,43 1171,43" fill="none" stroke="#003cd8" stroke-width="2" stroke-linejoin="round" shape-rendering="crispEdges"/>
<polyline points="2,343.3 10.5,347 18.5,353 26.5,359 34.5,364 42.5,367.5 50.5,371 58.5,374 66.5,377.5 74.5,380 82.5,383.5 90.5,390 98.5,396 106.5,402.5 114.5,409 122.5,414 130.5,419.5 138.5,425 146.5,427.5 152.5,429 160.5,429 170.5,428.5 178.5,427 196.5,426.5 202.5,422 210.5,415 218.5,409 226.5,405 234.5,401 242.5,398.5 250.5,395.5 258.5,392.5 266.5,387 274.5,381 282.5,375.5 290.5,371 298.5,366 306.5,361 314.5,356 322.5,353 330.5,349 338.5,345.5 346.5,342 354.5,338 362.5,336 370.5,333 378.5,330 386.5,328.5 394.5,328 402.5,327.5 410.5,325.5 418.5,324 426.5,321 434.5,318.5 442.5,315.5 450.5,313 458.5,312 466.5,310.5 474.5,309 478.5,308.75 482.5,309 490.5,311 498.5,312 522.5,312 524.5,311 530.5,311 538.5,287.5 546.5,265 554.5,249 562.5,235.5 570.5,224 578.5,212.5 586.5,201 594.5,192 602.5,182.5 610.5,173 618.5,164 626.5,155.5 630.5,152.5 642.5,145 650.5,140.5 658.5,135.5 666.5,131 674.5,127 680.5,123 690.5,119.5 698.5,116.5 700.5,115.5 716.5,115.5 722.5,114 738.5,113 746.5,112 754.5,111.5 757.5,112 762.5,113 810.5,113 818.5,110.5 826.5,109 834.5,107 842.5,102.5 850.5,98.5 858.5,96 866.5,94.5 874.5,94 882.5,94.5 890.5,95 898.5,95 906.5,96 926.5,96 930.5,94.5 938.5,92.5 946.5,89 954.5,87 962.5,84 970.5,80 978.5,76 986.5,72.5 994.5,70 1002.5,68 1010.5,66 1018.5,64 1026.5,62 1034.5,60 1042.5,56.5 1050.5,54 1058.5,51.5 1066.5,49.5 1074.5,47.5 1082.5,46 1090.5,44.5 1098.5,43 1106.5,41 1114.5,39 1122.5,37 1130.5,34.5 1138.5,33.5 1140.5,33 1147,33" fill="none" stroke="#ff0000" stroke-width="2" stroke-linejoin="round" shape-rendering="crispEdges"/>
<polyline points="2,362 10.5,369 18.5,374.5 26.5,380 34.5,384 42.5,387 50.5,389 58.5,390.5 66.5,393 74.5,402 82.5,411 90.5,419 94.5,421 98.5,425 106.5,431 114.5,436 120.5,441 142.5,441 146.5,439 154.5,435 160.5,434 170.5,432.5 178.5,430.5 186.5,422.5 194.5,410.5 202.5,402.5 210.5,397.5 218.5,393 226.5,388 234.5,387.5 242.5,384 250.5,378 258.5,370 266.5,364 274.5,358.5 282.5,353.5 290.5,348 298.5,342.5 306.5,339 314.5,338 322.5,334 330.5,330.5 338.5,327 346.5,324 354.5,322 362.5,320.5 370.5,320 378.5,320.5 386.5,321 394.5,319.5 402.5,317.5 410.5,314.5 418.5,311 426.5,308 434.5,306.5 442.5,305.5 450.5,303.5 458.5,303 466.5,304.5 470.5,307 474.5,310 482.5,311 498.5,311 506.5,310 514.5,310 518.5,290 522.5,272 526.5,256 530.5,243 532.5,237.5 538.5,219 546.5,202.5 554.5,189 562.5,178 570.5,169 578.5,159.5 586.5,148 594.5,139 602.5,132 610.5,126 618.5,122 626.5,119 634.5,117 642.5,115.5 650.5,112 658.5,109 666.5,105.5 674.5,104 680.5,103 684.5,103 688.5,105 690.5,106 730.5,106 738.5,107 746.5,109.5 754.5,110.5 762.5,111.5 793.5,112 802.5,108 810.5,105 818.5,102 826.5,97.5 834.5,92.5 842.5,89.5 850.5,88 858.5,88 866.5,90 874.5,92 882.5,94.5 890.5,95.5 906.5,95.5 914.5,92.5 922.5,89.5 930.5,86.5 938.5,84 946.5,78 954.5,73.5 962.5,70 970.5,66 978.5,62 986.5,60 994.5,58 1002.5,56 1010.5,55.5 1018.5,53 1026.5,50 1034.5,46 1042.5,43 1050.5,41.5 1058.5,40.5 1066.5,39.5 1074.5,38.5 1082.5,37.5 1090.5,36.5 1094.5,35 1098.5,33.5 1106.5,30.5 1110.5,29 1114.5,28 1131,28" fill="none" stroke="#00ff00" stroke-width="2" stroke-linejoin="round" shape-rendering="crispEdges"/>
<path d="M3.5,374 L-2.7,384.2 L3.5,380.8 Z" fill="#7a7a7a" stroke="#a39d94" stroke-width="0.5"/>
<path d="M3.5,374 L9.4,384.2 L3.5,380.8" fill="none" stroke="#bcc3d2" stroke-width="0.75"/>
<path d="M131.5,399 L125.3,409.2 L131.5,405.8 Z" fill="#7a7a7a" stroke="#a39d94" stroke-width="0.5"/>
<path d="M131.5,399 L137.4,409.2 L131.5,405.8" fill="none" stroke="#bcc3d2" stroke-width="0.75"/>
<path d="M179.5,342 L173.3,352.2 L179.5,348.8 Z" fill="#7a7a7a" stroke="#a39d94" stroke-width="0.5"/>
<path d="M179.5,342 L185.4,352.2 L179.5,348.8" fill="none" stroke="#bcc3d2" stroke-width="0.75"/>
<path d="M275.5,302 L269.3,312.2 L275.5,308.8 Z" fill="#7a7a7a" stroke="#a39d94" stroke-width="0.5"/>
<path d="M275.5,302 L281.4,312.2 L275.5,308.8" fill="none" stroke="#bcc3d2" stroke-width="0.75"/>
<path d="M339.5,294 L333.3,304.2 L339.5,300.8 Z" fill="#7a7a7a" stroke="#a39d94" stroke-width="0.5"/>
<path d="M339.5,294 L345.4,304.2 L339.5,300.8" fill="none" stroke="#bcc3d2" stroke-width="0.75"/>
<path d="M395.5,277 L389.3,287.2 L395.5,283.8 Z" fill="#7a7a7a" stroke="#a39d94" stroke-width="0.5"/>
<path d="M395.5,277 L401.4,287.2 L395.5,283.8" fill="none" stroke="#bcc3d2" stroke-width="0.75"/>
<path d="M435.5,279 L429.3,289.2 L435.5,285.8 Z" fill="#7a7a7a" stroke="#a39d94" stroke-width="0.5"/>
<path d="M435.5,279 L441.4,289.2 L435.5,285.8" fill="none" stroke="#bcc3d2" stroke-width="0.75"/>
<path d="M499.5,91 L493.3,101.2 L499.5,97.8 Z" fill="#7a7a7a" stroke="#a39d94" stroke-width="0.5"/>
<path d="M499.5,91 L505.4,101.2 L499.5,97.8" fill="none" stroke="#bcc3d2" stroke-width="0.75"/>
<path d="M563.5,76 L557.3,86.2 L563.5,82.8 Z" fill="#7a7a7a" stroke="#a39d94" stroke-width="0.5"/>
<path d="M563.5,76 L569.4,86.2 L563.5,82.8" fill="none" stroke="#bcc3d2" stroke-width="0.75"/>
<path d="M643.5,75 L637.3,85.2 L643.5,81.8 Z" fill="#7a7a7a" stroke="#a39d94" stroke-width="0.5"/>
<path d="M643.5,75 L649.4,85.2 L643.5,81.8" fill="none" stroke="#bcc3d2" stroke-width="0.75"/>
<path d="M691.5,84 L685.3,94.2 L691.5,90.8 Z" fill="#7a7a7a" stroke="#a39d94" stroke-width="0.5"/>
<path d="M691.5,84 L697.4,94.2 L691.5,90.8" fill="none" stroke="#bcc3d2" stroke-width="0.75"/>
<path d="M811.5,57 L805.3,67.2 L811.5,63.8 Z" fill="#7a7a7a" stroke="#a39d94" stroke-width="0.5"/>
<path d="M811.5,57 L817.4,67.2 L811.5,63.8" fill="none" stroke="#bcc3d2" stroke-width="0.75"/>
<path d="M955.5,25 L949.3,35.2 L955.5,31.8 Z" fill="#7a7a7a" stroke="#a39d94" stroke-width="0.5"/>
<path d="M955.5,25 L961.4,35.2 L955.5,31.8" fill="none" stroke="#bcc3d2" stroke-width="0.75"/>
<path d="M1011.5,11 L1005.3,21.2 L1011.5,17.8 Z" fill="#7a7a7a" stroke="#a39d94" stroke-width="0.5"/>
<path d="M1011.5,11 L1017.4,21.2 L1011.5,17.8" fill="none" stroke="#bcc3d2" stroke-width="0.75"/>
<path d="M1091.5,0 L1085.3,10.2 L1091.5,6.8 Z" fill="#7a7a7a" stroke="#a39d94" stroke-width="0.5"/>
<path d="M1091.5,0 L1097.4,10.2 L1091.5,6.8" fill="none" stroke="#bcc3d2" stroke-width="0.75"/>
<path d="M98.75,480.6 L104.65,471.3 L98.75,474.1 Z" fill="#7a7a7a" stroke="#a39d94" stroke-width="0.5"/>
<path d="M98.75,480.6 L93.15,471.3 L98.75,474.1" fill="none" stroke="#bcc3d2" stroke-width="0.75"/>
<path d="M146.75,448.6 L152.65,439.3 L146.75,442.1 Z" fill="#7a7a7a" stroke="#a39d94" stroke-width="0.5"/>
<path d="M146.75,448.6 L141.15,439.3 L146.75,442.1" fill="none" stroke="#bcc3d2" stroke-width="0.75"/>
<path d="M186.75,399.6 L192.65,390.3 L186.75,393.1 Z" fill="#7a7a7a" stroke="#a39d94" stroke-width="0.5"/>
<path d="M186.75,399.6 L181.15,390.3 L186.75,393.1" fill="none" stroke="#bcc3d2" stroke-width="0.75"/>
<path d="M210.75,402.6 L216.65,393.3 L210.75,396.1 Z" fill="#7a7a7a" stroke="#a39d94" stroke-width="0.5"/>
<path d="M210.75,402.6 L205.15,393.3 L210.75,396.1" fill="none" stroke="#bcc3d2" stroke-width="0.75"/>
<path d="M282.75,350.6 L288.65,341.3 L282.75,344.1 Z" fill="#7a7a7a" stroke="#a39d94" stroke-width="0.5"/>
<path d="M282.75,350.6 L277.15,341.3 L282.75,344.1" fill="none" stroke="#bcc3d2" stroke-width="0.75"/>
<path d="M330.75,336.6 L336.65,327.3 L330.75,330.1 Z" fill="#7a7a7a" stroke="#a39d94" stroke-width="0.5"/>
<path d="M330.75,336.6 L325.15,327.3 L330.75,330.1" fill="none" stroke="#bcc3d2" stroke-width="0.75"/>
<path d="M362.75,341.6 L368.65,332.3 L362.75,335.1 Z" fill="#7a7a7a" stroke="#a39d94" stroke-width="0.5"/>
<path d="M362.75,341.6 L357.15,332.3 L362.75,335.1" fill="none" stroke="#bcc3d2" stroke-width="0.75"/>
<path d="M418.75,319.6 L424.65,310.3 L418.75,313.1 Z" fill="#7a7a7a" stroke="#a39d94" stroke-width="0.5"/>
<path d="M418.75,319.6 L413.15,310.3 L418.75,313.1" fill="none" stroke="#bcc3d2" stroke-width="0.75"/>
<path d="M450.75,350.6 L456.65,341.3 L450.75,344.1 Z" fill="#7a7a7a" stroke="#a39d94" stroke-width="0.5"/>
<path d="M450.75,350.6 L445.15,341.3 L450.75,344.1" fill="none" stroke="#bcc3d2" stroke-width="0.75"/>
<path d="M530.75,156.6 L536.65,147.3 L530.75,150.10000000000002 Z" fill="#7a7a7a" stroke="#a39d94" stroke-width="0.5"/>
<path d="M530.75,156.6 L525.15,147.3 L530.75,150.10000000000002" fill="none" stroke="#bcc3d2" stroke-width="0.75"/>
<path d="M610.75,127.6 L616.65,118.3 L610.75,121.1 Z" fill="#7a7a7a" stroke="#a39d94" stroke-width="0.5"/>
<path d="M610.75,127.6 L605.15,118.3 L610.75,121.1" fill="none" stroke="#bcc3d2" stroke-width="0.75"/>
<path d="M674.75,133.6 L680.65,124.3 L674.75,127.1 Z" fill="#7a7a7a" stroke="#a39d94" stroke-width="0.5"/>
<path d="M674.75,133.6 L669.15,124.3 L674.75,127.1" fill="none" stroke="#bcc3d2" stroke-width="0.75"/>
<path d="M738.75,140.6 L744.65,131.3 L738.75,134.10000000000002 Z" fill="#7a7a7a" stroke="#a39d94" stroke-width="0.5"/>
<path d="M738.75,140.6 L733.15,131.3 L738.75,134.10000000000002" fill="none" stroke="#bcc3d2" stroke-width="0.75"/>
<path d="M762.75,136.6 L768.65,127.3 L762.75,130.1 Z" fill="#7a7a7a" stroke="#a39d94" stroke-width="0.5"/>
<path d="M762.75,136.6 L757.15,127.3 L762.75,130.1" fill="none" stroke="#bcc3d2" stroke-width="0.75"/>
<path d="M794.75,120.6 L800.65,111.3 L794.75,114.1 Z" fill="#7a7a7a" stroke="#a39d94" stroke-width="0.5"/>
<path d="M794.75,120.6 L789.15,111.3 L794.75,114.1" fill="none" stroke="#bcc3d2" stroke-width="0.75"/>
<path d="M858.75,119.6 L864.65,110.3 L858.75,113.1 Z" fill="#7a7a7a" stroke="#a39d94" stroke-width="0.5"/>
<path d="M858.75,119.6 L853.15,110.3 L858.75,113.1" fill="none" stroke="#bcc3d2" stroke-width="0.75"/>
<path d="M962.75,70.6 L968.65,61.3 L962.75,64.1 Z" fill="#7a7a7a" stroke="#a39d94" stroke-width="0.5"/>
<path d="M962.75,70.6 L957.15,61.3 L962.75,64.1" fill="none" stroke="#bcc3d2" stroke-width="0.75"/>
<path d="M1034.75,55.6 L1040.65,46.3 L1034.75,49.099999999999994 Z" fill="#7a7a7a" stroke="#a39d94" stroke-width="0.5"/>
<path d="M1034.75,55.6 L1029.15,46.3 L1034.75,49.099999999999994" fill="none" stroke="#bcc3d2" stroke-width="0.75"/>
<path d="M1122.2,8 L1130.6,15.4 L1126,15.4 L1126,26 L1118.5,26 L1118.5,15.4 L1113.9,15.4 Z" fill="none" stroke="#35d935" stroke-width="1.2" stroke-linejoin="miter"/>
</g>
<g shape-rendering="crispEdges">
<rect x="3" y="538" width="1" height="17" fill="#ff0000"/>
<rect x="8" y="538" width="4" height="18" fill="#ff0000"/>
<rect x="16" y="538" width="4" height="18" fill="#ff0000"/>
<rect x="24" y="538" width="4" height="18" fill="#008000"/>
<rect x="32" y="538" width="4" height="18" fill="#008000"/>
<rect x="40" y="538" width="4" height="18" fill="#008000"/>
<rect x="48" y="538" width="4" height="19" fill="#ff0000"/>
<rect x="56" y="538" width="4" height="21" fill="#ff0000"/>
<rect x="64" y="538" width="4" height="23" fill="#ff0000"/>
<rect x="72" y="538" width="4" height="26" fill="#ff0000"/>
<rect x="80" y="538" width="4" height="28" fill="#ff0000"/>
<rect x="88" y="538" width="4" height="28" fill="#ff0000"/>
<rect x="96" y="538" width="4" height="28" fill="#008000"/>
<rect x="104" y="538" width="4" height="26" fill="#008000"/>
<rect x="112" y="538" width="4" height="24" fill="#008000"/>
<rect x="120" y="538" width="4" height="21" fill="#008000"/>
<rect x="128" y="538" width="4" height="18" fill="#008000"/>
<rect x="136" y="538" width="4" height="14" fill="#008000"/>
<rect x="144" y="538" width="4" height="12" fill="#008000"/>
<rect x="152" y="538" width="4" height="10" fill="#008000"/>
<rect x="160" y="538" width="4" height="6" fill="#008000"/>
<rect x="168" y="538" width="4" height="2" fill="#008000"/>
<rect x="176" y="535" width="4" height="3" fill="#008000"/>
<rect x="184" y="532" width="4" height="6" fill="#008000"/>
<rect x="192" y="528" width="4" height="10" fill="#008000"/>
<rect x="200" y="526" width="4" height="12" fill="#008000"/>
<rect x="208" y="527" width="4" height="11" fill="#ff0000"/>
<rect x="216" y="527" width="4" height="11" fill="#ff0000"/>
<rect x="224" y="525" width="4" height="13" fill="#008000"/>
<rect x="232" y="523" width="4" height="15" fill="#008000"/>
<rect x="240" y="521" width="4" height="17" fill="#008000"/>
<rect x="248" y="519" width="4" height="19" fill="#008000"/>
<rect x="256" y="517" width="4" height="21" fill="#008000"/>
<rect x="264" y="516" width="4" height="22" fill="#008000"/>
<rect x="272" y="515" width="4" height="23" fill="#008000"/>
<rect x="280" y="515" width="4" height="23" fill="#008000"/>
<rect x="288" y="515" width="4" height="23" fill="#008000"/>
<rect x="296" y="516" width="4" height="22" fill="#ff0000"/>
<rect x="304" y="516" width="4" height="22" fill="#ff0000"/>
<rect x="312" y="516" width="4" height="22" fill="#ff0000"/>
<rect x="320" y="516" width="4" height="22" fill="#ff0000"/>
<rect x="328" y="517" width="4" height="21" fill="#ff0000"/>
<rect x="336" y="517" width="4" height="21" fill="#ff0000"/>
<rect x="344" y="519" width="4" height="19" fill="#ff0000"/>
<rect x="352" y="521" width="4" height="17" fill="#ff0000"/>
<rect x="360" y="523" width="4" height="15" fill="#ff0000"/>
<rect x="368" y="524" width="4" height="14" fill="#ff0000"/>
<rect x="376" y="525" width="4" height="13" fill="#ff0000"/>
<rect x="384" y="526" width="4" height="12" fill="#ff0000"/>
<rect x="392" y="525" width="4" height="13" fill="#008000"/>
<rect x="400" y="525" width="4" height="13" fill="#008000"/>
<rect x="408" y="525" width="4" height="13" fill="#ff0000"/>
<rect x="416" y="526" width="4" height="12" fill="#ff0000"/>
<rect x="424" y="527" width="4" height="11" fill="#ff0000"/>
<rect x="432" y="528" width="4" height="10" fill="#ff0000"/>
<rect x="440" y="529" width="4" height="9" fill="#ff0000"/>
<rect x="448" y="532" width="4" height="6" fill="#ff0000"/>
<rect x="456" y="533" width="4" height="5" fill="#ff0000"/>
<rect x="464" y="535" width="4" height="3" fill="#ff0000"/>
<rect x="472" y="537" width="4" height="1" fill="#ff0000"/>
<rect x="480" y="537" width="4" height="1" fill="#ff0000"/>
<rect x="488" y="537" width="4" height="1" fill="#008000"/>
<rect x="496" y="525" width="4" height="13" fill="#008000"/>
<rect x="504" y="514" width="4" height="24" fill="#008000"/>
<rect x="512" y="504" width="4" height="34" fill="#008000"/>
<rect x="520" y="494" width="4" height="44" fill="#008000"/>
<rect x="528" y="484" width="4" height="54" fill="#008000"/>
<rect x="536" y="487" width="4" height="51" fill="#ff0000"/>
<rect x="544" y="489" width="4" height="49" fill="#ff0000"/>
<rect x="552" y="491" width="4" height="47" fill="#ff0000"/>
<rect x="560" y="491" width="4" height="47" fill="#ff0000"/>
<rect x="568" y="491" width="4" height="47" fill="#ff0000"/>
<rect x="576" y="491" width="4" height="47" fill="#ff0000"/>
<rect x="584" y="491" width="4" height="47" fill="#ff0000"/>
<rect x="592" y="492" width="4" height="46" fill="#ff0000"/>
<rect x="600" y="495" width="4" height="43" fill="#ff0000"/>
<rect x="608" y="497" width="4" height="41" fill="#ff0000"/>
<rect x="616" y="499" width="4" height="39" fill="#ff0000"/>
<rect x="624" y="501" width="4" height="37" fill="#ff0000"/>
<rect x="632" y="503" width="4" height="35" fill="#ff0000"/>
<rect x="640" y="504" width="4" height="34" fill="#ff0000"/>
<rect x="648" y="506" width="4" height="32" fill="#ff0000"/>
<rect x="656" y="507" width="4" height="31" fill="#ff0000"/>
<rect x="664" y="510" width="4" height="28" fill="#ff0000"/>
<rect x="672" y="513" width="4" height="25" fill="#ff0000"/>
<rect x="680" y="516" width="4" height="22" fill="#ff0000"/>
<rect x="688" y="518" width="4" height="20" fill="#ff0000"/>
<rect x="696" y="521" width="4" height="17" fill="#ff0000"/>
<rect x="704" y="522" width="4" height="16" fill="#ff0000"/>
<rect x="712" y="524" width="4" height="14" fill="#ff0000"/>
<rect x="720" y="527" width="4" height="11" fill="#ff0000"/>
<rect x="728" y="530" width="4" height="8" fill="#ff0000"/>
<rect x="736" y="533" width="4" height="5" fill="#ff0000"/>
<rect x="744" y="535" width="4" height="3" fill="#ff0000"/>
<rect x="752" y="537" width="4" height="1" fill="#ff0000"/>
<rect x="760" y="538" width="4" height="1" fill="#ff0000"/>
<rect x="768" y="538" width="4" height="1" fill="#008000"/>
<rect x="776" y="537" width="4" height="1" fill="#008000"/>
<rect x="784" y="536" width="4" height="2" fill="#008000"/>
<rect x="792" y="535" width="4" height="3" fill="#008000"/>
<rect x="800" y="533" width="4" height="5" fill="#008000"/>
<rect x="808" y="532" width="4" height="6" fill="#008000"/>
<rect x="816" y="531" width="4" height="7" fill="#008000"/>
<rect x="824" y="530" width="4" height="8" fill="#008000"/>
<rect x="832" y="531" width="4" height="7" fill="#ff0000"/>
<rect x="840" y="532" width="4" height="6" fill="#ff0000"/>
<rect x="848" y="534" width="4" height="4" fill="#ff0000"/>
<rect x="856" y="536" width="4" height="2" fill="#ff0000"/>
<rect x="864" y="537" width="4" height="1" fill="#ff0000"/>
<rect x="872" y="538" width="4" height="1" fill="#ff0000"/>
<rect x="880" y="538" width="4" height="1" fill="#008000"/>
<rect x="888" y="536" width="4" height="2" fill="#008000"/>
<rect x="896" y="535" width="4" height="3" fill="#008000"/>
<rect x="904" y="533" width="4" height="5" fill="#008000"/>
<rect x="912" y="532" width="4" height="6" fill="#008000"/>
<rect x="920" y="530" width="4" height="8" fill="#008000"/>
<rect x="928" y="528" width="4" height="10" fill="#008000"/>
<rect x="936" y="527" width="4" height="11" fill="#008000"/>
<rect x="944" y="527" width="4" height="11" fill="#008000"/>
<rect x="952" y="526" width="4" height="12" fill="#008000"/>
<rect x="960" y="526" width="4" height="12" fill="#008000"/>
<rect x="968" y="526" width="4" height="12" fill="#ff0000"/>
<rect x="976" y="526" width="4" height="12" fill="#ff0000"/>
<rect x="984" y="527" width="4" height="11" fill="#ff0000"/>
<rect x="992" y="527" width="4" height="11" fill="#ff0000"/>
<rect x="1000" y="527" width="4" height="11" fill="#008000"/>
<rect x="1008" y="527" width="4" height="11" fill="#008000"/>
<rect x="1016" y="526" width="4" height="12" fill="#008000"/>
<rect x="1024" y="526" width="4" height="12" fill="#008000"/>
<rect x="1032" y="526" width="4" height="12" fill="#ff0000"/>
<rect x="1040" y="527" width="4" height="11" fill="#ff0000"/>
<rect x="1048" y="527" width="4" height="11" fill="#ff0000"/>
<rect x="1056" y="528" width="4" height="10" fill="#ff0000"/>
<rect x="1064" y="529" width="4" height="9" fill="#ff0000"/>
<rect x="1072" y="528" width="4" height="10" fill="#008000"/>
<rect x="1080" y="528" width="4" height="10" fill="#008000"/>
<rect x="1088" y="527" width="4" height="11" fill="#008000"/>
<rect x="1096" y="527" width="4" height="11" fill="#ff0000"/>
<rect x="1104" y="528" width="4" height="10" fill="#ff0000"/>
<rect x="3" y="651" width="1" height="11" fill="#008000"/>
<rect x="8" y="651" width="4" height="10" fill="#008000"/>
<rect x="16" y="651" width="4" height="7" fill="#008000"/>
<rect x="24" y="651" width="4" height="3" fill="#008000"/>
<rect x="32" y="651" width="4" height="1" fill="#008000"/>
<rect x="40" y="650" width="4" height="1" fill="#008000"/>
<rect x="48" y="651" width="4" height="3" fill="#ff0000"/>
<rect x="56" y="651" width="4" height="8" fill="#ff0000"/>
<rect x="64" y="651" width="4" height="11" fill="#ff0000"/>
<rect x="72" y="651" width="4" height="14" fill="#ff0000"/>
<rect x="80" y="651" width="4" height="14" fill="#008000"/>
<rect x="88" y="651" width="4" height="9" fill="#008000"/>
<rect x="96" y="651" width="4" height="4" fill="#008000"/>
<rect x="104" y="648" width="4" height="3" fill="#008000"/>
<rect x="112" y="642" width="4" height="9" fill="#008000"/>
<rect x="120" y="638" width="4" height="13" fill="#008000"/>
<rect x="128" y="633" width="4" height="18" fill="#008000"/>
<rect x="136" y="631" width="4" height="20" fill="#008000"/>
<rect x="144" y="633" width="4" height="18" fill="#ff0000"/>
<rect x="152" y="634" width="4" height="17" fill="#ff0000"/>
<rect x="160" y="633" width="4" height="18" fill="#008000"/>
<rect x="168" y="629" width="4" height="22" fill="#008000"/>
<rect x="176" y="626" width="4" height="25" fill="#008000"/>
<rect x="184" y="626" width="4" height="25" fill="#008000"/>
<rect x="192" y="626" width="4" height="25" fill="#ff0000"/>
<rect x="200" y="633" width="4" height="18" fill="#ff0000"/>
<rect x="208" y="643" width="4" height="8" fill="#ff0000"/>
<rect x="216" y="648" width="4" height="3" fill="#ff0000"/>
<rect x="224" y="647" width="4" height="4" fill="#008000"/>
<rect x="232" y="643" width="4" height="8" fill="#008000"/>
<rect x="240" y="641" width="4" height="10" fill="#008000"/>
<rect x="248" y="638" width="4" height="13" fill="#008000"/>
<rect x="256" y="638" width="4" height="13" fill="#ff0000"/>
<rect x="264" y="641" width="4" height="10" fill="#ff0000"/>
<rect x="272" y="644" width="4" height="7" fill="#ff0000"/>
<rect x="280" y="647" width="4" height="4" fill="#ff0000"/>
<rect x="288" y="649" width="4" height="2" fill="#ff0000"/>
<rect x="296" y="651" width="4" height="1" fill="#ff0000"/>
<rect x="304" y="651" width="4" height="1" fill="#ff0000"/>
<rect x="312" y="651" width="4" height="1" fill="#ff0000"/>
<rect x="320" y="651" width="4" height="1" fill="#008000"/>
<rect x="328" y="651" width="4" height="2" fill="#ff0000"/>
<rect x="336" y="651" width="4" height="3" fill="#ff0000"/>
<rect x="344" y="651" width="4" height="5" fill="#ff0000"/>
<rect x="352" y="651" width="4" height="9" fill="#ff0000"/>
<rect x="360" y="651" width="4" height="12" fill="#ff0000"/>
<rect x="368" y="651" width="4" height="11" fill="#008000"/>
<rect x="376" y="651" width="4" height="9" fill="#008000"/>
<rect x="384" y="651" width="4" height="7" fill="#008000"/>
<rect x="392" y="651" width="4" height="2" fill="#008000"/>
<rect x="400" y="650" width="4" height="1" fill="#008000"/>
<rect x="408" y="650" width="4" height="1" fill="#ff0000"/>
<rect x="416" y="651" width="4" height="2" fill="#ff0000"/>
<rect x="424" y="651" width="4" height="4" fill="#ff0000"/>
<rect x="432" y="651" width="4" height="5" fill="#ff0000"/>
<rect x="440" y="651" width="4" height="7" fill="#ff0000"/>
<rect x="448" y="651" width="4" height="11" fill="#ff0000"/>
<rect x="456" y="651" width="4" height="11" fill="#ff0000"/>
<rect x="464" y="651" width="4" height="12" fill="#ff0000"/>
<rect x="472" y="651" width="4" height="11" fill="#008000"/>
<rect x="480" y="651" width="4" height="7" fill="#008000"/>
<rect x="488" y="651" width="4" height="3" fill="#008000"/>
<rect x="496" y="623" width="4" height="28" fill="#008000"/>
<rect x="504" y="603" width="4" height="48" fill="#008000"/>
<rect x="512" y="589" width="4" height="62" fill="#008000"/>
<rect x="520" y="586" width="4" height="65" fill="#008000"/>
<rect x="528" y="588" width="4" height="63" fill="#ff0000"/>
<rect x="536" y="621" width="4" height="30" fill="#ff0000"/>
<rect x="544" y="644" width="4" height="7" fill="#ff0000"/>
<rect x="552" y="651" width="4" height="7" fill="#ff0000"/>
<rect x="560" y="651" width="4" height="9" fill="#ff0000"/>
<rect x="568" y="651" width="4" height="5" fill="#008000"/>
<rect x="576" y="651" width="4" height="2" fill="#008000"/>
<rect x="584" y="651" width="4" height="1" fill="#008000"/>
<rect x="592" y="651" width="4" height="2" fill="#ff0000"/>
<rect x="600" y="651" width="4" height="8" fill="#ff0000"/>
<rect x="608" y="651" width="4" height="11" fill="#ff0000"/>
<rect x="616" y="651" width="4" height="13" fill="#ff0000"/>
<rect x="624" y="651" width="4" height="14" fill="#ff0000"/>
<rect x="632" y="651" width="4" height="13" fill="#008000"/>
<rect x="640" y="651" width="4" height="11" fill="#008000"/>
<rect x="648" y="651" width="4" height="9" fill="#008000"/>
<rect x="656" y="651" width="4" height="9" fill="#008000"/>
<rect x="664" y="651" width="4" height="12" fill="#ff0000"/>
<rect x="672" y="651" width="4" height="15" fill="#ff0000"/>
<rect x="680" y="651" width="4" height="17" fill="#ff0000"/>
<rect x="688" y="651" width="4" height="17" fill="#ff0000"/>
<rect x="696" y="651" width="4" height="17" fill="#008000"/>
<rect x="704" y="651" width="4" height="14" fill="#008000"/>
<rect x="712" y="651" width="4" height="12" fill="#008000"/>
<rect x="720" y="651" width="4" height="14" fill="#ff0000"/>
<rect x="728" y="651" width="4" height="16" fill="#ff0000"/>
<rect x="736" y="651" width="4" height="17" fill="#ff0000"/>
<rect x="744" y="651" width="4" height="17" fill="#008000"/>
<rect x="752" y="651" width="4" height="15" fill="#008000"/>
<rect x="760" y="651" width="4" height="13" fill="#008000"/>
<rect x="768" y="651" width="4" height="7" fill="#008000"/>
<rect x="776" y="650" width="4" height="1" fill="#008000"/>
<rect x="784" y="647" width="4" height="4" fill="#008000"/>
<rect x="792" y="645" width="4" height="6" fill="#008000"/>
<rect x="800" y="642" width="4" height="9" fill="#008000"/>
<rect x="808" y="641" width="4" height="10" fill="#008000"/>
<rect x="816" y="643" width="4" height="8" fill="#ff0000"/>
<rect x="824" y="645" width="4" height="6" fill="#ff0000"/>
<rect x="832" y="649" width="4" height="2" fill="#ff0000"/>
<rect x="840" y="651" width="4" height="3" fill="#ff0000"/>
<rect x="848" y="651" width="4" height="8" fill="#ff0000"/>
<rect x="856" y="651" width="4" height="10" fill="#ff0000"/>
<rect x="864" y="651" width="4" height="11" fill="#ff0000"/>
<rect x="872" y="651" width="4" height="8" fill="#008000"/>
<rect x="880" y="651" width="4" height="3" fill="#008000"/>
<rect x="888" y="649" width="4" height="2" fill="#008000"/>
<rect x="896" y="645" width="4" height="6" fill="#008000"/>
<rect x="904" y="642" width="4" height="9" fill="#008000"/>
<rect x="912" y="641" width="4" height="10" fill="#008000"/>
<rect x="920" y="640" width="4" height="11" fill="#008000"/>
<rect x="928" y="641" width="4" height="10" fill="#ff0000"/>
<rect x="936" y="643" width="4" height="8" fill="#ff0000"/>
<rect x="944" y="644" width="4" height="7" fill="#ff0000"/>
<rect x="952" y="645" width="4" height="6" fill="#ff0000"/>
<rect x="960" y="647" width="4" height="4" fill="#ff0000"/>
<rect x="968" y="650" width="4" height="1" fill="#ff0000"/>
<rect x="976" y="651" width="4" height="1" fill="#ff0000"/>
<rect x="984" y="651" width="4" height="2" fill="#ff0000"/>
<rect x="992" y="651" width="4" height="3" fill="#ff0000"/>
<rect x="1000" y="651" width="4" height="1" fill="#008000"/>
<rect x="1008" y="651" width="4" height="1" fill="#008000"/>
<rect x="1016" y="649" width="4" height="2" fill="#008000"/>
<rect x="1024" y="648" width="4" height="3" fill="#008000"/>
<rect x="1032" y="650" width="4" height="1" fill="#ff0000"/>
<rect x="1040" y="651" width="4" height="1" fill="#ff0000"/>
<rect x="1048" y="651" width="4" height="3" fill="#ff0000"/>
<rect x="1056" y="651" width="4" height="4" fill="#ff0000"/>
<rect x="1064" y="651" width="4" height="4" fill="#008000"/>
<rect x="1072" y="651" width="4" height="2" fill="#008000"/>
<rect x="1080" y="650" width="4" height="1" fill="#008000"/>
<rect x="1088" y="648" width="4" height="3" fill="#008000"/>
<rect x="1096" y="649" width="4" height="2" fill="#ff0000"/>
<rect x="1104" y="651" width="4" height="1" fill="#ff0000"/>
<rect x="3" y="726" width="1" height="3" fill="#008000"/>
<rect x="3" y="729" width="1" height="11" fill="#008000"/>
<rect x="8" y="725" width="4" height="4" fill="#008000"/>
<rect x="8" y="729" width="4" height="13" fill="#008000"/>
<rect x="16" y="723" width="4" height="6" fill="#008000"/>
<rect x="16" y="729" width="4" height="13" fill="#ff0000"/>
<rect x="24" y="720" width="4" height="9" fill="#008000"/>
<rect x="24" y="729" width="4" height="12" fill="#ff0000"/>
<rect x="32" y="719" width="4" height="10" fill="#008000"/>
<rect x="32" y="729" width="4" height="12" fill="#ff0000"/>
<rect x="40" y="718" width="4" height="11" fill="#008000"/>
<rect x="40" y="729" width="4" height="11" fill="#ff0000"/>
<rect x="48" y="718" width="4" height="11" fill="#008000"/>
<rect x="48" y="729" width="4" height="10" fill="#ff0000"/>
<rect x="56" y="718" width="4" height="11" fill="#008000"/>
<rect x="56" y="729" width="4" height="9" fill="#ff0000"/>
<rect x="64" y="718" width="4" height="11" fill="#ff0000"/>
<rect x="64" y="729" width="4" height="9" fill="#ff0000"/>
<rect x="72" y="719" width="4" height="10" fill="#ff0000"/>
<rect x="72" y="729" width="4" height="13" fill="#008000"/>
<rect x="80" y="718" width="4" height="11" fill="#008000"/>
<rect x="80" y="729" width="4" height="15" fill="#008000"/>
<rect x="88" y="716" width="4" height="13" fill="#008000"/>
<rect x="88" y="729" width="4" height="16" fill="#008000"/>
<rect x="96" y="714" width="4" height="15" fill="#008000"/>
<rect x="96" y="729" width="4" height="17" fill="#008000"/>
<rect x="104" y="711" width="4" height="18" fill="#008000"/>
<rect x="104" y="729" width="4" height="17" fill="#ff0000"/>
<rect x="112" y="710" width="4" height="19" fill="#008000"/>
<rect x="112" y="729" width="4" height="16" fill="#ff0000"/>
<rect x="120" y="710" width="4" height="19" fill="#008000"/>
<rect x="120" y="729" width="4" height="16" fill="#ff0000"/>
<rect x="128" y="709" width="4" height="20" fill="#008000"/>
<rect x="128" y="729" width="4" height="13" fill="#ff0000"/>
<rect x="136" y="709" width="4" height="20" fill="#008000"/>
<rect x="136" y="729" width="4" height="10" fill="#ff0000"/>
<rect x="144" y="711" width="4" height="18" fill="#ff0000"/>
<rect x="144" y="729" width="4" height="7" fill="#ff0000"/>
<rect x="152" y="713" width="4" height="16" fill="#ff0000"/>
<rect x="152" y="729" width="4" height="4" fill="#ff0000"/>
<rect x="160" y="715" width="4" height="14" fill="#ff0000"/>
<rect x="160" y="729" width="4" height="2" fill="#ff0000"/>
<rect x="168" y="718" width="4" height="11" fill="#ff0000"/>
<rect x="168" y="729" width="4" height="2" fill="#ff0000"/>
<rect x="176" y="719" width="4" height="10" fill="#ff0000"/>
<rect x="176" y="729" width="4" height="1" fill="#ff0000"/>
<rect x="184" y="720" width="4" height="9" fill="#ff0000"/>
<rect x="184" y="729" width="4" height="3" fill="#008000"/>
<rect x="192" y="721" width="4" height="8" fill="#ff0000"/>
<rect x="192" y="729" width="4" height="10" fill="#008000"/>
<rect x="200" y="724" width="4" height="5" fill="#ff0000"/>
<rect x="200" y="729" width="4" height="12" fill="#008000"/>
<rect x="208" y="728" width="4" height="1" fill="#ff0000"/>
<rect x="208" y="729" width="4" height="11" fill="#ff0000"/>
<rect x="216" y="725" width="4" height="4" fill="#008000"/>
<rect x="216" y="729" width="4" height="10" fill="#ff0000"/>
<rect x="224" y="724" width="4" height="5" fill="#008000"/>
<rect x="224" y="729" width="4" height="10" fill="#008000"/>
<rect x="232" y="723" width="4" height="6" fill="#008000"/>
<rect x="232" y="729" width="4" height="9" fill="#ff0000"/>
<rect x="240" y="723" width="4" height="6" fill="#008000"/>
<rect x="240" y="729" width="4" height="9" fill="#ff0000"/>
<rect x="248" y="723" width="4" height="6" fill="#008000"/>
<rect x="248" y="729" width="4" height="11" fill="#008000"/>
<rect x="256" y="723" width="4" height="6" fill="#008000"/>
<rect x="256" y="729" width="4" height="13" fill="#008000"/>
<rect x="264" y="721" width="4" height="8" fill="#008000"/>
<rect x="264" y="729" width="4" height="14" fill="#008000"/>
<rect x="272" y="718" width="4" height="11" fill="#008000"/>
<rect x="272" y="729" width="4" height="14" fill="#ff0000"/>
<rect x="280" y="717" width="4" height="12" fill="#008000"/>
<rect x="280" y="729" width="4" height="14" fill="#008000"/>
<rect x="288" y="716" width="4" height="13" fill="#008000"/>
<rect x="288" y="729" width="4" height="14" fill="#008000"/>
<rect x="296" y="715" width="4" height="14" fill="#008000"/>
<rect x="296" y="729" width="4" height="14" fill="#008000"/>
<rect x="304" y="714" width="4" height="15" fill="#008000"/>
<rect x="304" y="729" width="4" height="13" fill="#ff0000"/>
<rect x="312" y="714" width="4" height="15" fill="#008000"/>
<rect x="312" y="729" width="4" height="12" fill="#ff0000"/>
<rect x="320" y="714" width="4" height="15" fill="#ff0000"/>
<rect x="320" y="729" width="4" height="11" fill="#ff0000"/>
<rect x="328" y="714" width="4" height="15" fill="#ff0000"/>
<rect x="328" y="729" width="4" height="11" fill="#008000"/>
<rect x="336" y="715" width="4" height="14" fill="#ff0000"/>
<rect x="336" y="729" width="4" height="11" fill="#008000"/>
<rect x="344" y="714" width="4" height="15" fill="#008000"/>
<rect x="344" y="729" width="4" height="11" fill="#ff0000"/>
<rect x="352" y="714" width="4" height="15" fill="#008000"/>
<rect x="352" y="729" width="4" height="10" fill="#ff0000"/>
<rect x="360" y="714" width="4" height="15" fill="#008000"/>
<rect x="360" y="729" width="4" height="9" fill="#ff0000"/>
<rect x="368" y="714" width="4" height="15" fill="#ff0000"/>
<rect x="368" y="729" width="4" height="8" fill="#ff0000"/>
<rect x="376" y="715" width="4" height="14" fill="#ff0000"/>
<rect x="376" y="729" width="4" height="6" fill="#ff0000"/>
<rect x="384" y="716" width="4" height="13" fill="#ff0000"/>
<rect x="384" y="729" width="4" height="4" fill="#ff0000"/>
<rect x="392" y="717" width="4" height="12" fill="#ff0000"/>
<rect x="392" y="729" width="4" height="5" fill="#008000"/>
<rect x="400" y="718" width="4" height="11" fill="#ff0000"/>
<rect x="400" y="729" width="4" height="6" fill="#008000"/>
<rect x="408" y="719" width="4" height="10" fill="#ff0000"/>
<rect x="408" y="729" width="4" height="7" fill="#008000"/>
<rect x="416" y="718" width="4" height="11" fill="#008000"/>
<rect x="416" y="729" width="4" height="7" fill="#008000"/>
<rect x="424" y="717" width="4" height="12" fill="#008000"/>
<rect x="424" y="729" width="4" height="7" fill="#008000"/>
<rect x="432" y="717" width="4" height="12" fill="#008000"/>
<rect x="432" y="729" width="4" height="7" fill="#ff0000"/>
<rect x="440" y="717" width="4" height="12" fill="#008000"/>
<rect x="440" y="729" width="4" height="6" fill="#ff0000"/>
<rect x="448" y="717" width="4" height="12" fill="#ff0000"/>
<rect x="448" y="729" width="4" height="6" fill="#ff0000"/>
<rect x="456" y="718" width="4" height="11" fill="#ff0000"/>
<rect x="456" y="729" width="4" height="6" fill="#008000"/>
<rect x="464" y="718" width="4" height="11" fill="#ff0000"/>
<rect x="464" y="729" width="4" height="3" fill="#ff0000"/>
<rect x="472" y="718" width="4" height="11" fill="#ff0000"/>
<rect x="472" y="729" width="4" height="1" fill="#ff0000"/>
<rect x="480" y="720" width="4" height="9" fill="#ff0000"/>
<rect x="480" y="729" width="4" height="1" fill="#008000"/>
<rect x="488" y="722" width="4" height="7" fill="#ff0000"/>
<rect x="488" y="729" width="4" height="1" fill="#ff0000"/>
<rect x="496" y="724" width="4" height="5" fill="#ff0000"/>
<rect x="496" y="729" width="4" height="1" fill="#008000"/>
<rect x="504" y="724" width="4" height="5" fill="#ff0000"/>
<rect x="504" y="729" width="4" height="1" fill="#008000"/>
<rect x="512" y="724" width="4" height="5" fill="#008000"/>
<rect x="512" y="729" width="4" height="1" fill="#008000"/>
<rect x="520" y="724" width="4" height="5" fill="#008000"/>
<rect x="520" y="729" width="4" height="24" fill="#008000"/>
<rect x="528" y="724" width="4" height="5" fill="#ff0000"/>
<rect x="528" y="729" width="4" height="41" fill="#008000"/>
<rect x="536" y="710" width="4" height="19" fill="#008000"/>
<rect x="536" y="729" width="4" height="41" fill="#ff0000"/>
<rect x="544" y="698" width="4" height="31" fill="#008000"/>
<rect x="544" y="729" width="4" height="39" fill="#ff0000"/>
<rect x="552" y="688" width="4" height="41" fill="#008000"/>
<rect x="552" y="729" width="4" height="36" fill="#ff0000"/>
<rect x="560" y="688" width="4" height="41" fill="#ff0000"/>
<rect x="560" y="729" width="4" height="34" fill="#ff0000"/>
<rect x="568" y="689" width="4" height="40" fill="#ff0000"/>
<rect x="568" y="729" width="4" height="32" fill="#ff0000"/>
<rect x="576" y="690" width="4" height="39" fill="#ff0000"/>
<rect x="576" y="729" width="4" height="31" fill="#ff0000"/>
<rect x="584" y="691" width="4" height="38" fill="#ff0000"/>
<rect x="584" y="729" width="4" height="32" fill="#008000"/>
<rect x="592" y="691" width="4" height="38" fill="#008000"/>
<rect x="592" y="729" width="4" height="31" fill="#ff0000"/>
<rect x="600" y="689" width="4" height="40" fill="#008000"/>
<rect x="600" y="729" width="4" height="29" fill="#ff0000"/>
<rect x="608" y="689" width="4" height="40" fill="#008000"/>
<rect x="608" y="729" width="4" height="27" fill="#ff0000"/>
<rect x="616" y="690" width="4" height="39" fill="#ff0000"/>
<rect x="616" y="729" width="4" height="25" fill="#ff0000"/>
<rect x="624" y="691" width="4" height="38" fill="#ff0000"/>
<rect x="624" y="729" width="4" height="22" fill="#ff0000"/>
<rect x="632" y="692" width="4" height="37" fill="#ff0000"/>
<rect x="632" y="729" width="4" height="19" fill="#ff0000"/>
<rect x="640" y="694" width="4" height="35" fill="#ff0000"/>
<rect x="640" y="729" width="4" height="17" fill="#ff0000"/>
<rect x="648" y="696" width="4" height="33" fill="#ff0000"/>
<rect x="648" y="729" width="4" height="16" fill="#ff0000"/>
<rect x="656" y="698" width="4" height="31" fill="#ff0000"/>
<rect x="656" y="729" width="4" height="16" fill="#ff0000"/>
<rect x="664" y="699" width="4" height="30" fill="#ff0000"/>
<rect x="664" y="729" width="4" height="15" fill="#ff0000"/>
<rect x="672" y="699" width="4" height="30" fill="#ff0000"/>
<rect x="672" y="729" width="4" height="14" fill="#ff0000"/>
<rect x="680" y="700" width="4" height="29" fill="#ff0000"/>
<rect x="680" y="729" width="4" height="12" fill="#ff0000"/>
<rect x="688" y="701" width="4" height="28" fill="#ff0000"/>
<rect x="688" y="729" width="4" height="8" fill="#ff0000"/>
<rect x="696" y="703" width="4" height="26" fill="#ff0000"/>
<rect x="696" y="729" width="4" height="6" fill="#ff0000"/>
<rect x="704" y="706" width="4" height="23" fill="#ff0000"/>
<rect x="704" y="729" width="4" height="6" fill="#ff0000"/>
<rect x="712" y="708" width="4" height="21" fill="#ff0000"/>
<rect x="712" y="729" width="4" height="6" fill="#008000"/>
<rect x="720" y="710" width="4" height="19" fill="#ff0000"/>
<rect x="720" y="729" width="4" height="5" fill="#ff0000"/>
<rect x="728" y="710" width="4" height="19" fill="#ff0000"/>
<rect x="728" y="729" width="4" height="4" fill="#ff0000"/>
<rect x="736" y="711" width="4" height="18" fill="#ff0000"/>
<rect x="736" y="729" width="4" height="3" fill="#ff0000"/>
<rect x="744" y="713" width="4" height="16" fill="#ff0000"/>
<rect x="744" y="729" width="4" height="2" fill="#ff0000"/>
<rect x="752" y="714" width="4" height="15" fill="#ff0000"/>
<rect x="752" y="729" width="4" height="1" fill="#ff0000"/>
<rect x="760" y="716" width="4" height="13" fill="#ff0000"/>
<rect x="760" y="729" width="4" height="1" fill="#ff0000"/>
<rect x="768" y="717" width="4" height="12" fill="#ff0000"/>
<rect x="768" y="729" width="4" height="1" fill="#ff0000"/>
<rect x="776" y="719" width="4" height="10" fill="#ff0000"/>
<rect x="776" y="729" width="4" height="1" fill="#008000"/>
<rect x="784" y="719" width="4" height="10" fill="#ff0000"/>
<rect x="784" y="729" width="4" height="1" fill="#ff0000"/>
<rect x="792" y="720" width="4" height="9" fill="#ff0000"/>
<rect x="792" y="729" width="4" height="1" fill="#008000"/>
<rect x="800" y="720" width="4" height="9" fill="#ff0000"/>
<rect x="800" y="729" width="4" height="3" fill="#008000"/>
<rect x="808" y="721" width="4" height="8" fill="#ff0000"/>
<rect x="808" y="729" width="4" height="4" fill="#008000"/>
<rect x="816" y="720" width="4" height="9" fill="#008000"/>
<rect x="816" y="729" width="4" height="4" fill="#008000"/>
<rect x="824" y="719" width="4" height="10" fill="#008000"/>
<rect x="824" y="729" width="4" height="7" fill="#008000"/>
<rect x="832" y="719" width="4" height="10" fill="#008000"/>
<rect x="832" y="729" width="4" height="8" fill="#008000"/>
<rect x="840" y="718" width="4" height="11" fill="#008000"/>
<rect x="840" y="729" width="4" height="8" fill="#ff0000"/>
<rect x="848" y="717" width="4" height="12" fill="#008000"/>
<rect x="848" y="729" width="4" height="7" fill="#ff0000"/>
<rect x="856" y="716" width="4" height="13" fill="#008000"/>
<rect x="856" y="729" width="4" height="4" fill="#ff0000"/>
<rect x="864" y="717" width="4" height="12" fill="#ff0000"/>
<rect x="864" y="729" width="4" height="2" fill="#ff0000"/>
<rect x="872" y="719" width="4" height="10" fill="#ff0000"/>
<rect x="872" y="729" width="4" height="1" fill="#ff0000"/>
<rect x="880" y="721" width="4" height="8" fill="#ff0000"/>
<rect x="880" y="729" width="4" height="1" fill="#ff0000"/>
<rect x="888" y="722" width="4" height="7" fill="#ff0000"/>
<rect x="888" y="729" width="4" height="1" fill="#008000"/>
<rect x="896" y="724" width="4" height="5" fill="#ff0000"/>
<rect x="896" y="729" width="4" height="1" fill="#ff0000"/>
<rect x="904" y="724" width="4" height="5" fill="#ff0000"/>
<rect x="904" y="729" width="4" height="1" fill="#008000"/>
<rect x="912" y="725" width="4" height="4" fill="#ff0000"/>
<rect x="912" y="729" width="4" height="3" fill="#008000"/>
<rect x="920" y="724" width="4" height="5" fill="#008000"/>
<rect x="920" y="729" width="4" height="4" fill="#008000"/>
<rect x="928" y="723" width="4" height="6" fill="#008000"/>
<rect x="928" y="729" width="4" height="5" fill="#008000"/>
<rect x="936" y="722" width="4" height="7" fill="#008000"/>
<rect x="936" y="729" width="4" height="5" fill="#008000"/>
<rect x="944" y="721" width="4" height="8" fill="#008000"/>
<rect x="944" y="729" width="4" height="6" fill="#008000"/>
<rect x="952" y="721" width="4" height="8" fill="#008000"/>
<rect x="952" y="729" width="4" height="8" fill="#008000"/>
<rect x="960" y="720" width="4" height="9" fill="#008000"/>
<rect x="960" y="729" width="4" height="8" fill="#008000"/>
<rect x="968" y="719" width="4" height="10" fill="#008000"/>
<rect x="968" y="729" width="4" height="8" fill="#008000"/>
<rect x="976" y="718" width="4" height="11" fill="#008000"/>
<rect x="976" y="729" width="4" height="9" fill="#008000"/>
<rect x="984" y="718" width="4" height="11" fill="#008000"/>
<rect x="984" y="729" width="4" height="8" fill="#ff0000"/>
<rect x="992" y="717" width="4" height="12" fill="#008000"/>
<rect x="992" y="729" width="4" height="7" fill="#ff0000"/>
<rect x="1000" y="718" width="4" height="11" fill="#ff0000"/>
<rect x="1000" y="729" width="4" height="7" fill="#ff0000"/>
<rect x="1008" y="718" width="4" height="11" fill="#ff0000"/>
<rect x="1008" y="729" width="4" height="6" fill="#ff0000"/>
<rect x="1016" y="718" width="4" height="11" fill="#ff0000"/>
<rect x="1016" y="729" width="4" height="6" fill="#ff0000"/>
<rect x="1024" y="719" width="4" height="10" fill="#ff0000"/>
<rect x="1024" y="729" width="4" height="7" fill="#008000"/>
<rect x="1032" y="719" width="4" height="10" fill="#ff0000"/>
<rect x="1032" y="729" width="4" height="8" fill="#008000"/>
<rect x="1040" y="718" width="4" height="11" fill="#008000"/>
<rect x="1040" y="729" width="4" height="8" fill="#008000"/>
<rect x="1048" y="718" width="4" height="11" fill="#008000"/>
<rect x="1048" y="729" width="4" height="8" fill="#ff0000"/>
<rect x="1056" y="717" width="4" height="12" fill="#008000"/>
<rect x="1056" y="729" width="4" height="6" fill="#ff0000"/>
<rect x="1064" y="717" width="4" height="12" fill="#ff0000"/>
<rect x="1064" y="729" width="4" height="5" fill="#ff0000"/>
<rect x="1072" y="718" width="4" height="11" fill="#ff0000"/>
<rect x="1072" y="729" width="4" height="5" fill="#ff0000"/>
<rect x="1080" y="719" width="4" height="10" fill="#ff0000"/>
<rect x="1080" y="729" width="4" height="5" fill="#ff0000"/>
<rect x="1088" y="719" width="4" height="10" fill="#ff0000"/>
<rect x="1088" y="729" width="4" height="5" fill="#008000"/>
<rect x="1096" y="720" width="4" height="9" fill="#ff0000"/>
<rect x="1096" y="729" width="4" height="5" fill="#008000"/>
<rect x="1104" y="720" width="4" height="9" fill="#ff0000"/>
<rect x="1104" y="729" width="4" height="6" fill="#008000"/>
<rect x="1112" y="719" width="4" height="10" fill="#008000"/>
<rect x="1112" y="729" width="4" height="7" fill="#008000"/>
<rect x="1120" y="719" width="4" height="10" fill="#008000"/>
<rect x="1120" y="729" width="4" height="5" fill="#ff0000"/>
<rect x="1128" y="718" width="4" height="11" fill="#008000"/>
<rect x="1128" y="729" width="4" height="3" fill="#ff0000"/>
<rect x="1136" y="719" width="4" height="10" fill="#ff0000"/>
<rect x="1144" y="720" width="4" height="9" fill="#ff0000"/>
</g>
<g shape-rendering="crispEdges" stroke="#e2e2e2" stroke-width="1" fill="none">
<line x1="3" y1="538.5" x2="1236" y2="538.5" stroke-dasharray="3 3" stroke-dashoffset="1"/>
<line x1="3" y1="651.5" x2="1236" y2="651.5" stroke-dasharray="3 3" stroke-dashoffset="1"/>
<line x1="3" y1="729.5" x2="1236" y2="729.5" stroke-dasharray="3 3" stroke-dashoffset="1"/>
</g>
<g shape-rendering="crispEdges" fill="#000">
<rect x="2" y="2" width="1231" height="1" fill="#000"/>
<rect x="2" y="473" width="1231" height="1" fill="#000"/>
<rect x="2" y="2" width="1" height="472" fill="#000"/>
<rect x="1232" y="2" width="1" height="472" fill="#000"/>
<rect x="2" y="475" width="1231" height="1" fill="#000"/>
<rect x="2" y="575" width="1231" height="1" fill="#000"/>
<rect x="2" y="475" width="1" height="101" fill="#000"/>
<rect x="1232" y="475" width="1" height="101" fill="#000"/>
<rect x="2" y="577" width="1231" height="1" fill="#000"/>
<rect x="2" y="677" width="1231" height="1" fill="#000"/>
<rect x="2" y="577" width="1" height="101" fill="#000"/>
<rect x="1232" y="577" width="1" height="101" fill="#000"/>
<rect x="2" y="679" width="1231" height="1" fill="#000"/>
<rect x="2" y="779" width="1231" height="1" fill="#000"/>
<rect x="2" y="679" width="1" height="101" fill="#000"/>
<rect x="1232" y="679" width="1" height="101" fill="#000"/>
<rect x="1233" y="25" width="4" height="1" fill="#000"/>
<rect x="1233" y="57" width="4" height="1" fill="#000"/>
<rect x="1233" y="89" width="4" height="1" fill="#000"/>
<rect x="1233" y="121" width="4" height="1" fill="#000"/>
<rect x="1233" y="153" width="4" height="1" fill="#000"/>
<rect x="1233" y="185" width="4" height="1" fill="#000"/>
<rect x="1233" y="217" width="4" height="1" fill="#000"/>
<rect x="1233" y="249" width="4" height="1" fill="#000"/>
<rect x="1233" y="281" width="4" height="1" fill="#000"/>
<rect x="1233" y="313" width="4" height="1" fill="#000"/>
<rect x="1233" y="345" width="4" height="1" fill="#000"/>
<rect x="1233" y="377" width="4" height="1" fill="#000"/>
<rect x="1233" y="409" width="4" height="1" fill="#000"/>
<rect x="1233" y="441" width="4" height="1" fill="#000"/>
<rect x="1233" y="476" width="4" height="1" fill="#000"/>
<rect x="1233" y="574" width="4" height="1" fill="#000"/>
<rect x="1233" y="578" width="4" height="1" fill="#000"/>
<rect x="1233" y="676" width="4" height="1" fill="#000"/>
<rect x="1233" y="680" width="4" height="1" fill="#000"/>
<rect x="1233" y="778" width="4" height="1" fill="#000"/>
<rect x="2" y="780" width="1" height="4" fill="#000"/>
<rect x="66" y="780" width="1" height="4" fill="#000"/>
<rect x="130" y="780" width="1" height="4" fill="#000"/>
<rect x="194" y="780" width="1" height="4" fill="#000"/>
<rect x="258" y="780" width="1" height="4" fill="#000"/>
<rect x="322" y="780" width="1" height="4" fill="#000"/>
<rect x="386" y="780" width="1" height="4" fill="#000"/>
<rect x="450" y="780" width="1" height="4" fill="#000"/>
<rect x="514" y="780" width="1" height="4" fill="#000"/>
<rect x="578" y="780" width="1" height="4" fill="#000"/>
<rect x="642" y="780" width="1" height="4" fill="#000"/>
<rect x="706" y="780" width="1" height="4" fill="#000"/>
<rect x="770" y="780" width="1" height="4" fill="#000"/>
<rect x="834" y="780" width="1" height="4" fill="#000"/>
<rect x="898" y="780" width="1" height="4" fill="#000"/>
<rect x="962" y="780" width="1" height="4" fill="#000"/>
<rect x="1026" y="780" width="1" height="4" fill="#000"/>
<rect x="1090" y="780" width="1" height="4" fill="#000"/>
<rect x="1235" y="28" width="34" height="11" fill="#c80000"/>
</g>
<g>
<text x="1238" y="29" font-size="10.2" fill="#000" stroke="#000" stroke-width="0.2" text-rendering="geometricPrecision" textLength="27.4" lengthAdjust="spacingAndGlyphs">453.70</text>
<text x="1238" y="61" font-size="10.2" fill="#000" stroke="#000" stroke-width="0.2" text-rendering="geometricPrecision" textLength="27.4" lengthAdjust="spacingAndGlyphs">446.60</text>
<text x="1238" y="93" font-size="10.2" fill="#000" stroke="#000" stroke-width="0.2" text-rendering="geometricPrecision" textLength="27.4" lengthAdjust="spacingAndGlyphs">439.50</text>
<text x="1238" y="125" font-size="10.2" fill="#000" stroke="#000" stroke-width="0.2" text-rendering="geometricPrecision" textLength="27.4" lengthAdjust="spacingAndGlyphs">432.40</text>
<text x="1238" y="157" font-size="10.2" fill="#000" stroke="#000" stroke-width="0.2" text-rendering="geometricPrecision" textLength="27.4" lengthAdjust="spacingAndGlyphs">425.30</text>
<text x="1238" y="189" font-size="10.2" fill="#000" stroke="#000" stroke-width="0.2" text-rendering="geometricPrecision" textLength="27.4" lengthAdjust="spacingAndGlyphs">418.20</text>
<text x="1238" y="221" font-size="10.2" fill="#000" stroke="#000" stroke-width="0.2" text-rendering="geometricPrecision" textLength="27.4" lengthAdjust="spacingAndGlyphs">411.10</text>
<text x="1238" y="253" font-size="10.2" fill="#000" stroke="#000" stroke-width="0.2" text-rendering="geometricPrecision" textLength="27.4" lengthAdjust="spacingAndGlyphs">404.00</text>
<text x="1238" y="285" font-size="10.2" fill="#000" stroke="#000" stroke-width="0.2" text-rendering="geometricPrecision" textLength="27.4" lengthAdjust="spacingAndGlyphs">396.90</text>
<text x="1238" y="317" font-size="10.2" fill="#000" stroke="#000" stroke-width="0.2" text-rendering="geometricPrecision" textLength="27.4" lengthAdjust="spacingAndGlyphs">389.80</text>
<text x="1238" y="349" font-size="10.2" fill="#000" stroke="#000" stroke-width="0.2" text-rendering="geometricPrecision" textLength="27.4" lengthAdjust="spacingAndGlyphs">382.70</text>
<text x="1238" y="381" font-size="10.2" fill="#000" stroke="#000" stroke-width="0.2" text-rendering="geometricPrecision" textLength="27.4" lengthAdjust="spacingAndGlyphs">375.60</text>
<text x="1238" y="413" font-size="10.2" fill="#000" stroke="#000" stroke-width="0.2" text-rendering="geometricPrecision" textLength="27.4" lengthAdjust="spacingAndGlyphs">368.50</text>
<text x="1238" y="445" font-size="10.2" fill="#000" stroke="#000" stroke-width="0.2" text-rendering="geometricPrecision" textLength="27.4" lengthAdjust="spacingAndGlyphs">361.40</text>
<text x="1238" y="37" font-size="10.2" fill="#fff" stroke="#fff" stroke-width="0.2" text-rendering="geometricPrecision" textLength="27.4" lengthAdjust="spacingAndGlyphs">451.98</text>
<text x="1238" y="484" font-size="10.2" fill="#000" stroke="#000" stroke-width="0.2" text-rendering="geometricPrecision" textLength="27.4" lengthAdjust="spacingAndGlyphs">40.513</text>
<text x="1238" y="541" font-size="10.2" fill="#000" stroke="#000" stroke-width="0.2" text-rendering="geometricPrecision" textLength="22.4" lengthAdjust="spacingAndGlyphs">0.000</text>
<text x="1238" y="573" font-size="10.2" fill="#000" stroke="#000" stroke-width="0.2" text-rendering="geometricPrecision" textLength="30.4" lengthAdjust="spacingAndGlyphs">-23.554</text>
<text x="1238" y="586" font-size="10.2" fill="#000" stroke="#000" stroke-width="0.2" text-rendering="geometricPrecision" textLength="32.4" lengthAdjust="spacingAndGlyphs">15.2759</text>
<text x="1238" y="654" font-size="10.2" fill="#000" stroke="#000" stroke-width="0.2" text-rendering="geometricPrecision" textLength="27.4" lengthAdjust="spacingAndGlyphs">0.0000</text>
<text x="1238" y="675" font-size="10.2" fill="#000" stroke="#000" stroke-width="0.2" text-rendering="geometricPrecision" textLength="30.4" lengthAdjust="spacingAndGlyphs">-5.3425</text>
<text x="1238" y="688" font-size="10.2" fill="#000" stroke="#000" stroke-width="0.2" text-rendering="geometricPrecision" textLength="27.4" lengthAdjust="spacingAndGlyphs">18.305</text>
<text x="1238" y="732" font-size="10.2" fill="#000" stroke="#000" stroke-width="0.2" text-rendering="geometricPrecision" textLength="22.4" lengthAdjust="spacingAndGlyphs">0.000</text>
<text x="1238" y="777" font-size="10.2" fill="#000" stroke="#000" stroke-width="0.2" text-rendering="geometricPrecision" textLength="30.4" lengthAdjust="spacingAndGlyphs">-18.441</text>
<text x="6" y="488" font-size="10.2" fill="#000" stroke="#000" stroke-width="0.2" text-rendering="geometricPrecision" textLength="57.4" lengthAdjust="spacingAndGlyphs">AOcust 6.694</text>
<text x="6" y="590" font-size="10.2" fill="#000" stroke="#000" stroke-width="0.2" text-rendering="geometricPrecision" textLength="63.9" lengthAdjust="spacingAndGlyphs">ACcust -0.1569</text>
<text x="6" y="692" font-size="10.2" fill="#000" stroke="#000" stroke-width="0.2" text-rendering="geometricPrecision" textLength="97.9" lengthAdjust="spacingAndGlyphs">GatorCust 3.110 -1.334</text>
<text x="3" y="792" font-size="10.2" fill="#000" stroke="#000" stroke-width="0.2" text-rendering="geometricPrecision" textLength="50.199999999999996" lengthAdjust="spacingAndGlyphs">17 Apr 2025</text>
<text x="66" y="792" font-size="10.2" fill="#000" stroke="#000" stroke-width="0.2" text-rendering="geometricPrecision" textLength="53.199999999999996" lengthAdjust="spacingAndGlyphs">21 Apr 18:00</text>
<text x="130" y="792" font-size="10.2" fill="#000" stroke="#000" stroke-width="0.2" text-rendering="geometricPrecision" textLength="53.199999999999996" lengthAdjust="spacingAndGlyphs">22 Apr 19:00</text>
<text x="194" y="792" font-size="10.2" fill="#000" stroke="#000" stroke-width="0.2" text-rendering="geometricPrecision" textLength="53.199999999999996" lengthAdjust="spacingAndGlyphs">23 Apr 20:00</text>
<text x="258" y="792" font-size="10.2" fill="#000" stroke="#000" stroke-width="0.2" text-rendering="geometricPrecision" textLength="53.199999999999996" lengthAdjust="spacingAndGlyphs">24 Apr 21:00</text>
<text x="322" y="792" font-size="10.2" fill="#000" stroke="#000" stroke-width="0.2" text-rendering="geometricPrecision" textLength="53.199999999999996" lengthAdjust="spacingAndGlyphs">25 Apr 22:00</text>
<text x="386" y="792" font-size="10.2" fill="#000" stroke="#000" stroke-width="0.2" text-rendering="geometricPrecision" textLength="53.199999999999996" lengthAdjust="spacingAndGlyphs">29 Apr 16:00</text>
<text x="450" y="792" font-size="10.2" fill="#000" stroke="#000" stroke-width="0.2" text-rendering="geometricPrecision" textLength="53.199999999999996" lengthAdjust="spacingAndGlyphs">30 Apr 17:00</text>
<text x="514" y="792" font-size="10.2" fill="#000" stroke="#000" stroke-width="0.2" text-rendering="geometricPrecision" textLength="51.199999999999996" lengthAdjust="spacingAndGlyphs">1 May 18:00</text>
<text x="578" y="792" font-size="10.2" fill="#000" stroke="#000" stroke-width="0.2" text-rendering="geometricPrecision" textLength="51.199999999999996" lengthAdjust="spacingAndGlyphs">2 May 19:00</text>
<text x="642" y="792" font-size="10.2" fill="#000" stroke="#000" stroke-width="0.2" text-rendering="geometricPrecision" textLength="51.199999999999996" lengthAdjust="spacingAndGlyphs">5 May 20:00</text>
<text x="706" y="792" font-size="10.2" fill="#000" stroke="#000" stroke-width="0.2" text-rendering="geometricPrecision" textLength="51.199999999999996" lengthAdjust="spacingAndGlyphs">6 May 21:00</text>
<text x="770" y="792" font-size="10.2" fill="#000" stroke="#000" stroke-width="0.2" text-rendering="geometricPrecision" textLength="51.199999999999996" lengthAdjust="spacingAndGlyphs">7 May 22:00</text>
<text x="834" y="792" font-size="10.2" fill="#000" stroke="#000" stroke-width="0.2" text-rendering="geometricPrecision" textLength="51.199999999999996" lengthAdjust="spacingAndGlyphs">9 May 16:00</text>
<text x="898" y="792" font-size="10.2" fill="#000" stroke="#000" stroke-width="0.2" text-rendering="geometricPrecision" textLength="56.199999999999996" lengthAdjust="spacingAndGlyphs">12 May 17:00</text>
<text x="962" y="792" font-size="10.2" fill="#000" stroke="#000" stroke-width="0.2" text-rendering="geometricPrecision" textLength="56.199999999999996" lengthAdjust="spacingAndGlyphs">13 May 18:00</text>
<text x="1026" y="792" font-size="10.2" fill="#000" stroke="#000" stroke-width="0.2" text-rendering="geometricPrecision" textLength="56.199999999999996" lengthAdjust="spacingAndGlyphs">14 May 19:00</text>
<text x="1090" y="792" font-size="10.2" fill="#000" stroke="#000" stroke-width="0.2" text-rendering="geometricPrecision" textLength="56.199999999999996" lengthAdjust="spacingAndGlyphs">15 May 20:00</text>
</g>
</svg></body></html>
